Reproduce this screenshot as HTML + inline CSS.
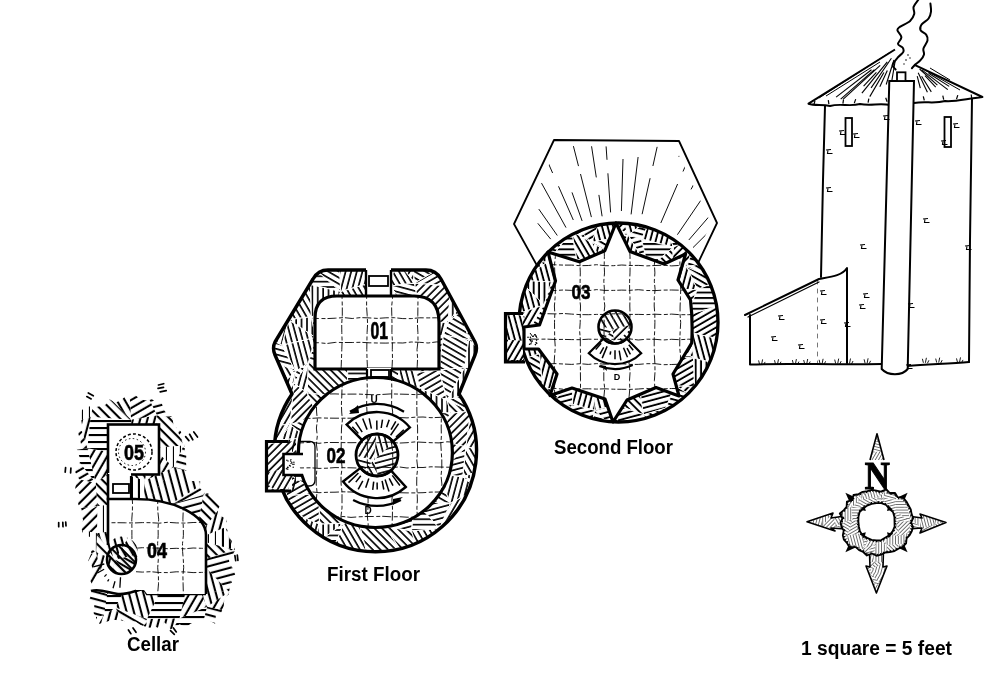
<!DOCTYPE html><html><head><meta charset="utf-8"><style>html,body{margin:0;padding:0;background:#fff;width:1000px;height:691px;overflow:hidden}svg{display:block;will-change:transform}text{font-family:"Liberation Sans",sans-serif;font-weight:bold}</style></head><body>
<svg width="1000" height="691" viewBox="0 0 1000 691">
<defs>
<pattern id="h0" width="5.4" height="5.4" patternUnits="userSpaceOnUse" patternTransform="rotate(0)"><rect width="5.4" height="1.65" fill="#000"/></pattern><pattern id="h1" width="5.4" height="5.4" patternUnits="userSpaceOnUse" patternTransform="rotate(30)"><rect width="5.4" height="1.65" fill="#000"/></pattern><pattern id="h2" width="5.4" height="5.4" patternUnits="userSpaceOnUse" patternTransform="rotate(60)"><rect width="5.4" height="1.65" fill="#000"/></pattern><pattern id="h3" width="5.4" height="5.4" patternUnits="userSpaceOnUse" patternTransform="rotate(90)"><rect width="5.4" height="1.65" fill="#000"/></pattern><pattern id="h4" width="5.4" height="5.4" patternUnits="userSpaceOnUse" patternTransform="rotate(120)"><rect width="5.4" height="1.65" fill="#000"/></pattern><pattern id="h5" width="5.4" height="5.4" patternUnits="userSpaceOnUse" patternTransform="rotate(150)"><rect width="5.4" height="1.65" fill="#000"/></pattern><pattern id="h6" width="5.4" height="5.4" patternUnits="userSpaceOnUse" patternTransform="rotate(15)"><rect width="5.4" height="1.65" fill="#000"/></pattern><pattern id="h7" width="5.4" height="5.4" patternUnits="userSpaceOnUse" patternTransform="rotate(45)"><rect width="5.4" height="1.65" fill="#000"/></pattern><pattern id="h8" width="5.4" height="5.4" patternUnits="userSpaceOnUse" patternTransform="rotate(75)"><rect width="5.4" height="1.65" fill="#000"/></pattern><pattern id="h9" width="5.4" height="5.4" patternUnits="userSpaceOnUse" patternTransform="rotate(105)"><rect width="5.4" height="1.65" fill="#000"/></pattern><pattern id="h10" width="5.4" height="5.4" patternUnits="userSpaceOnUse" patternTransform="rotate(135)"><rect width="5.4" height="1.65" fill="#000"/></pattern><pattern id="h11" width="5.4" height="5.4" patternUnits="userSpaceOnUse" patternTransform="rotate(165)"><rect width="5.4" height="1.65" fill="#000"/></pattern>
<pattern id="s0" width="5.4" height="5.4" patternUnits="userSpaceOnUse" patternTransform="rotate(0)"><rect width="5.4" height="1.9" fill="#000"/></pattern><pattern id="s1" width="5.4" height="5.4" patternUnits="userSpaceOnUse" patternTransform="rotate(30)"><rect width="5.4" height="1.9" fill="#000"/></pattern><pattern id="s2" width="5.4" height="5.4" patternUnits="userSpaceOnUse" patternTransform="rotate(60)"><rect width="5.4" height="1.9" fill="#000"/></pattern><pattern id="s3" width="5.4" height="5.4" patternUnits="userSpaceOnUse" patternTransform="rotate(90)"><rect width="5.4" height="1.9" fill="#000"/></pattern><pattern id="s4" width="5.4" height="5.4" patternUnits="userSpaceOnUse" patternTransform="rotate(120)"><rect width="5.4" height="1.9" fill="#000"/></pattern><pattern id="s5" width="5.4" height="5.4" patternUnits="userSpaceOnUse" patternTransform="rotate(150)"><rect width="5.4" height="1.9" fill="#000"/></pattern><pattern id="s6" width="5.4" height="5.4" patternUnits="userSpaceOnUse" patternTransform="rotate(15)"><rect width="5.4" height="1.9" fill="#000"/></pattern><pattern id="s7" width="5.4" height="5.4" patternUnits="userSpaceOnUse" patternTransform="rotate(45)"><rect width="5.4" height="1.9" fill="#000"/></pattern><pattern id="s8" width="5.4" height="5.4" patternUnits="userSpaceOnUse" patternTransform="rotate(75)"><rect width="5.4" height="1.9" fill="#000"/></pattern><pattern id="s9" width="5.4" height="5.4" patternUnits="userSpaceOnUse" patternTransform="rotate(105)"><rect width="5.4" height="1.9" fill="#000"/></pattern><pattern id="s10" width="5.4" height="5.4" patternUnits="userSpaceOnUse" patternTransform="rotate(135)"><rect width="5.4" height="1.9" fill="#000"/></pattern><pattern id="s11" width="5.4" height="5.4" patternUnits="userSpaceOnUse" patternTransform="rotate(165)"><rect width="5.4" height="1.9" fill="#000"/></pattern>
<pattern id="r0" width="7.0" height="7.0" patternUnits="userSpaceOnUse" patternTransform="rotate(0)"><rect width="7.0" height="2.1" fill="#000"/></pattern><pattern id="r1" width="7.0" height="7.0" patternUnits="userSpaceOnUse" patternTransform="rotate(30)"><rect width="7.0" height="2.1" fill="#000"/></pattern><pattern id="r2" width="7.0" height="7.0" patternUnits="userSpaceOnUse" patternTransform="rotate(60)"><rect width="7.0" height="2.1" fill="#000"/></pattern><pattern id="r3" width="7.0" height="7.0" patternUnits="userSpaceOnUse" patternTransform="rotate(90)"><rect width="7.0" height="2.1" fill="#000"/></pattern><pattern id="r4" width="7.0" height="7.0" patternUnits="userSpaceOnUse" patternTransform="rotate(120)"><rect width="7.0" height="2.1" fill="#000"/></pattern><pattern id="r5" width="7.0" height="7.0" patternUnits="userSpaceOnUse" patternTransform="rotate(150)"><rect width="7.0" height="2.1" fill="#000"/></pattern><pattern id="r6" width="7.0" height="7.0" patternUnits="userSpaceOnUse" patternTransform="rotate(15)"><rect width="7.0" height="2.1" fill="#000"/></pattern><pattern id="r7" width="7.0" height="7.0" patternUnits="userSpaceOnUse" patternTransform="rotate(45)"><rect width="7.0" height="2.1" fill="#000"/></pattern><pattern id="r8" width="7.0" height="7.0" patternUnits="userSpaceOnUse" patternTransform="rotate(75)"><rect width="7.0" height="2.1" fill="#000"/></pattern><pattern id="r9" width="7.0" height="7.0" patternUnits="userSpaceOnUse" patternTransform="rotate(105)"><rect width="7.0" height="2.1" fill="#000"/></pattern><pattern id="r10" width="7.0" height="7.0" patternUnits="userSpaceOnUse" patternTransform="rotate(135)"><rect width="7.0" height="2.1" fill="#000"/></pattern><pattern id="r11" width="7.0" height="7.0" patternUnits="userSpaceOnUse" patternTransform="rotate(165)"><rect width="7.0" height="2.1" fill="#000"/></pattern>
<pattern id="f0" width="2.8" height="2.8" patternUnits="userSpaceOnUse" patternTransform="rotate(0)"><rect width="2.8" height="0.9" fill="#000"/></pattern><pattern id="f1" width="2.8" height="2.8" patternUnits="userSpaceOnUse" patternTransform="rotate(30)"><rect width="2.8" height="0.9" fill="#000"/></pattern><pattern id="f2" width="2.8" height="2.8" patternUnits="userSpaceOnUse" patternTransform="rotate(60)"><rect width="2.8" height="0.9" fill="#000"/></pattern><pattern id="f3" width="2.8" height="2.8" patternUnits="userSpaceOnUse" patternTransform="rotate(90)"><rect width="2.8" height="0.9" fill="#000"/></pattern><pattern id="f4" width="2.8" height="2.8" patternUnits="userSpaceOnUse" patternTransform="rotate(120)"><rect width="2.8" height="0.9" fill="#000"/></pattern><pattern id="f5" width="2.8" height="2.8" patternUnits="userSpaceOnUse" patternTransform="rotate(150)"><rect width="2.8" height="0.9" fill="#000"/></pattern><pattern id="f6" width="2.8" height="2.8" patternUnits="userSpaceOnUse" patternTransform="rotate(15)"><rect width="2.8" height="0.9" fill="#000"/></pattern><pattern id="f7" width="2.8" height="2.8" patternUnits="userSpaceOnUse" patternTransform="rotate(45)"><rect width="2.8" height="0.9" fill="#000"/></pattern><pattern id="f8" width="2.8" height="2.8" patternUnits="userSpaceOnUse" patternTransform="rotate(75)"><rect width="2.8" height="0.9" fill="#000"/></pattern><pattern id="f9" width="2.8" height="2.8" patternUnits="userSpaceOnUse" patternTransform="rotate(105)"><rect width="2.8" height="0.9" fill="#000"/></pattern><pattern id="f10" width="2.8" height="2.8" patternUnits="userSpaceOnUse" patternTransform="rotate(135)"><rect width="2.8" height="0.9" fill="#000"/></pattern><pattern id="f11" width="2.8" height="2.8" patternUnits="userSpaceOnUse" patternTransform="rotate(165)"><rect width="2.8" height="0.9" fill="#000"/></pattern>
<clipPath id="cCellar"><path d="M90.7,406.2 L96.4,406.9 L101.4,406.1 L106.0,404.6 L109.4,399.3 L115.8,402.6 L120.4,400.5 L124.8,396.9 L130.4,398.5 L135.2,395.2 L141.0,399.6 L146.4,400.5 L151.7,399.1 L156.8,403.0 L161.1,401.4 L164.3,410.6 L168.0,415.0 L172.3,416.9 L173.8,427.0 L177.8,428.1 L181.2,432.0 L182.2,441.8 L185.4,441.8 L184.6,450.2 L186.5,453.3 L185.9,460.6 L186.3,466.1 L186.3,472.0 L187.5,478.0 L191.5,481.0 L200.2,481.3 L199.8,488.1 L203.9,492.3 L212.3,495.1 L214.4,499.9 L220.5,504.4 L217.7,510.1 L219.2,515.0 L228.3,520.2 L223.0,525.5 L230.1,532.5 L229.8,538.1 L234.6,545.3 L234.8,550.6 L233.1,554.8 L228.7,557.4 L229.3,562.3 L233.4,569.6 L235.7,576.4 L230.1,577.4 L232.4,584.2 L229.9,587.2 L228.8,594.4 L224.4,598.3 L223.7,606.4 L221.2,612.4 L215.9,614.7 L215.1,623.8 L206.2,618.7 L201.3,620.5 L195.9,621.5 L190.9,623.4 L186.2,627.1 L179.5,624.2 L175.3,627.2 L170.6,629.2 L164.5,622.2 L160.2,628.8 L155.0,626.4 L150.0,627.7 L145.0,626.5 L140.1,624.7 L135.6,621.4 L130.7,621.4 L125.8,621.2 L120.9,620.7 L116.1,620.0 L111.1,620.1 L105.0,622.5 L99.2,623.8 L96.5,618.4 L93.7,613.3 L94.6,602.2 L88.6,602.0 L92.0,592.3 L92.7,586.6 L91.6,583.2 L89.8,580.2 L93.2,571.8 L92.3,567.8 L91.1,563.8 L88.1,560.9 L91.2,553.6 L91.1,548.5 L91.5,543.3 L92.2,537.6 L83.9,535.2 L81.8,530.2 L81.9,524.9 L83.1,519.7 L81.0,515.0 L81.8,510.0 L78.3,504.6 L77.9,499.4 L80.4,495.0 L75.2,488.3 L76.1,483.6 L79.7,480.3 L75.2,472.1 L76.5,466.8 L79.8,463.2 L79.6,457.3 L76.7,448.8 L81.8,447.7 L80.2,440.2 L77.7,431.4 L82.5,431.0 L81.9,423.9 L80.5,415.7 L81.4,410.6 L85.4,407.2 Z"/></clipPath>
<clipPath id="c04"><path d="M108,499 L135,499 A71,36 0 0 1 206,535 L206,594 L147,594 L144,590 L136,590 L136,560 A14.5,14.5 0 0 0 108,545 Z"/></clipPath>
<clipPath id="cCirc04"><circle cx="121.5" cy="559.5" r="14.5"/></clipPath>
<clipPath id="cFF"><path d="M328,270 L426,270 Q436,270 441,279 L475,342 Q478,348 475,355 L459,394 A101,101 0 1 1 292,394 L275,355 Q272,348 275,342 L313,279 Q318,270 328,270 Z"/></clipPath>
<clipPath id="c01"><path d="M315,369 L315,318 Q315,296 337,296 L414,296 Q439,296 439,322 L439,369 Z"/></clipPath>
<clipPath id="c02"><ellipse cx="375.4" cy="452.5" rx="77" ry="75"/></clipPath>
<clipPath id="cPil1"><circle cx="377" cy="455" r="21"/></clipPath>
<clipPath id="cNub1"><rect x="266" y="440" width="30" height="51"/></clipPath>
<clipPath id="cSF"><circle cx="618.5" cy="322.5" r="99.5"/><rect x="505" y="313" width="20" height="49"/></clipPath>
<clipPath id="cStar"><path d="M616,223 L630,251.6 L664,264 L685.6,254 L678,280 L690.5,300 Q693,321 691.7,343 L673,374 L679,396 L656,387.5 L627,400 L613,422 L605,399 L572,388 L550,395.5 L557,374 L538.5,349 L524,349 L524,327 L539.5,325 L555.5,281 L548,252 L579.3,261.75 L604.8,250.7 Z"/></clipPath>
<clipPath id="cPil2"><circle cx="615" cy="327" r="16.5"/></clipPath>
<clipPath id="cRoof"><path d="M558,146 L675,147 L711,223 L690,270 L545,270 L520,224 Z"/></clipPath>
<clipPath id="cRing"><path fill-rule="evenodd" clip-rule="evenodd" d="M911.1,522.5 L913.0,526.9 L911.8,531.2 L909.7,535.1 L906.6,538.4 L906.1,543.3 L902.9,546.7 L898.4,548.7 L894.5,551.1 L889.8,552.0 L885.3,552.5 L881.1,554.7 L876.5,555.8 L872.0,553.5 L866.9,555.5 L863.2,552.0 L859.1,550.2 L855.8,547.2 L849.5,547.2 L847.1,543.2 L843.9,539.7 L842.8,535.3 L843.7,530.6 L841.5,526.7 L840.5,522.5 L842.5,518.4 L839.8,513.5 L843.8,510.1 L846.6,506.7 L846.9,501.6 L852.2,500.2 L853.5,495.0 L858.6,494.1 L862.6,491.8 L867.4,491.2 L871.8,489.8 L876.5,490.7 L880.9,491.6 L886.2,489.2 L889.8,493.0 L895.1,493.0 L897.6,497.2 L903.4,497.9 L906.4,501.5 L908.6,505.5 L910.8,509.5 L911.6,513.9 L913.2,518.1 Z M894.5,521.7 L894.4,516.9 L893.0,512.1 L889.3,508.8 L886.1,505.0 L881.4,503.1 L876.4,503.1 L871.6,503.8 L867.1,505.6 L863.3,508.6 L859.6,512.0 L858.5,516.9 L858.4,521.7 L858.9,526.4 L859.9,531.2 L862.7,535.4 L867.1,537.9 L871.6,539.8 L876.4,540.5 L881.3,540.1 L885.5,537.5 L889.7,535.0 L892.7,531.1 L894.6,526.6 Z"/></clipPath>
<clipPath id="cSpk"><path d="M807,521.7 L833,513 L831,518 L845,516 L845,529 L831,528 L835,531 Z"/><path d="M946,522.6 L920,514 L922,518 L908,516 L908,529 L922,528 L920,533 Z"/><path d="M876.4,593 L866,566 L870,567 L869.5,553 L883.4,553 L883,567 L887,566 Z"/><path d="M877,433.7 L884,460 L870,460 Z"/></clipPath>
</defs>
<g clip-path="url(#cCellar)"><polygon points="69.0,396.2 97.6,386.0 90.6,416.7 78.7,421.3" fill="url(#r3)"/><polygon points="78.7,421.3 90.6,416.7 87.4,448.3" fill="url(#r9)"/><polygon points="78.7,421.3 87.4,448.3 70.2,450.8" fill="url(#r10)"/><polygon points="70.2,450.8 87.4,448.3 95.8,483.0" fill="url(#r0)"/><polygon points="70.2,450.8 95.8,483.0 63.5,476.2" fill="url(#r5)"/><polygon points="63.5,476.2 95.8,483.0 97.4,505.9 72.7,509.0" fill="url(#r10)"/><polygon points="72.7,509.0 97.4,505.9 61.7,526.0" fill="url(#r5)"/><polygon points="97.4,505.9 97.0,533.3 61.7,526.0" fill="url(#r10)"/><polygon points="61.7,526.0 97.0,533.3 96.1,552.4" fill="url(#r3)"/><polygon points="61.7,526.0 96.1,552.4 61.6,563.4" fill="url(#r5)"/><polygon points="61.6,563.4 96.1,552.4 107.2,594.2 74.0,574.6" fill="url(#r4)"/><polygon points="74.0,574.6 107.2,594.2 104.0,615.3 79.9,620.5" fill="url(#r6)"/><polygon points="79.9,620.5 104.0,615.3 73.2,640.4" fill="url(#r3)"/><polygon points="104.0,615.3 93.2,632.5 73.2,640.4" fill="url(#r3)"/><polygon points="73.2,640.4 93.2,632.5 92.7,656.2 63.0,655.0" fill="url(#r9)"/><polygon points="97.6,386.0 129.5,393.0 131.1,419.7" fill="url(#r2)"/><polygon points="97.6,386.0 131.1,419.7 90.6,416.7" fill="url(#r7)"/><polygon points="90.6,416.7 131.1,419.7 133.4,456.1 87.4,448.3" fill="url(#r0)"/><polygon points="87.4,448.3 133.4,456.1 95.8,483.0" fill="url(#r4)"/><polygon points="133.4,456.1 113.8,470.0 95.8,483.0" fill="url(#r2)"/><polygon points="95.8,483.0 113.8,470.0 132.4,502.4 97.4,505.9" fill="url(#r7)"/><polygon points="97.4,505.9 132.4,502.4 133.9,527.9 97.0,533.3" fill="url(#r3)"/><polygon points="97.0,533.3 133.9,527.9 115.2,559.7" fill="url(#r8)"/><polygon points="97.0,533.3 115.2,559.7 96.1,552.4" fill="url(#r7)"/><polygon points="96.1,552.4 115.2,559.7 107.2,594.2" fill="url(#r9)"/><polygon points="115.2,559.7 129.7,579.3 107.2,594.2" fill="url(#r7)"/><polygon points="107.2,594.2 129.7,579.3 115.5,607.6 104.0,615.3" fill="url(#r0)"/><polygon points="104.0,615.3 115.5,607.6 133.5,643.3 93.2,632.5" fill="url(#r9)"/><polygon points="93.2,632.5 133.5,643.3 116.2,659.8 92.7,656.2" fill="url(#r11)"/><polygon points="129.5,393.0 142.8,386.0 157.1,415.4 131.1,419.7" fill="url(#r5)"/><polygon points="131.1,419.7 157.1,415.4 152.2,447.9 133.4,456.1" fill="url(#r9)"/><polygon points="133.4,456.1 152.2,447.9 144.7,480.8 113.8,470.0" fill="url(#r2)"/><polygon points="113.8,470.0 144.7,480.8 143.4,505.9 132.4,502.4" fill="url(#r3)"/><polygon points="132.4,502.4 143.4,505.9 143.1,528.4 133.9,527.9" fill="url(#r4)"/><polygon points="133.9,527.9 143.1,528.4 145.1,552.3 115.2,559.7" fill="url(#r2)"/><polygon points="115.2,559.7 145.1,552.3 129.7,579.3" fill="url(#r1)"/><polygon points="145.1,552.3 160.7,590.2 129.7,579.3" fill="url(#r7)"/><polygon points="129.7,579.3 160.7,590.2 147.0,618.9 115.5,607.6" fill="url(#r8)"/><polygon points="115.5,607.6 147.0,618.9 133.5,643.3" fill="url(#r1)"/><polygon points="147.0,618.9 145.1,635.8 133.5,643.3" fill="url(#r10)"/><polygon points="133.5,643.3 145.1,635.8 158.3,667.9 116.2,659.8" fill="url(#r7)"/><polygon points="142.8,386.0 169.8,405.0 172.1,417.0 157.1,415.4" fill="url(#r11)"/><polygon points="157.1,415.4 172.1,417.0 183.6,445.5 152.2,447.9" fill="url(#r7)"/><polygon points="152.2,447.9 183.6,445.5 173.8,467.2" fill="url(#r3)"/><polygon points="152.2,447.9 173.8,467.2 144.7,480.8" fill="url(#r4)"/><polygon points="144.7,480.8 173.8,467.2 143.4,505.9" fill="url(#r8)"/><polygon points="173.8,467.2 169.6,504.7 143.4,505.9" fill="url(#r8)"/><polygon points="143.4,505.9 169.6,504.7 143.1,528.4" fill="url(#r6)"/><polygon points="169.6,504.7 172.7,532.1 143.1,528.4" fill="url(#r11)"/><polygon points="143.1,528.4 172.7,532.1 175.4,556.0" fill="url(#r11)"/><polygon points="143.1,528.4 175.4,556.0 145.1,552.3" fill="url(#r6)"/><polygon points="145.1,552.3 175.4,556.0 187.4,583.7 160.7,590.2" fill="url(#r7)"/><polygon points="160.7,590.2 187.4,583.7 179.5,618.5 147.0,618.9" fill="url(#r0)"/><polygon points="147.0,618.9 179.5,618.5 171.5,630.9 145.1,635.8" fill="url(#r9)"/><polygon points="145.1,635.8 171.5,630.9 158.3,667.9" fill="url(#r5)"/><polygon points="171.5,630.9 186.4,671.5 158.3,667.9" fill="url(#r7)"/><polygon points="169.8,405.0 199.9,388.6 209.9,431.0 172.1,417.0" fill="url(#r3)"/><polygon points="172.1,417.0 209.9,431.0 198.8,458.2 183.6,445.5" fill="url(#r10)"/><polygon points="183.6,445.5 198.8,458.2 212.8,478.1" fill="url(#r3)"/><polygon points="183.6,445.5 212.8,478.1 173.8,467.2" fill="url(#r6)"/><polygon points="173.8,467.2 212.8,478.1 169.6,504.7" fill="url(#r8)"/><polygon points="212.8,478.1 203.4,494.9 169.6,504.7" fill="url(#r5)"/><polygon points="169.6,504.7 203.4,494.9 195.5,539.5 172.7,532.1" fill="url(#r11)"/><polygon points="172.7,532.1 195.5,539.5 199.6,561.2" fill="url(#r1)"/><polygon points="172.7,532.1 199.6,561.2 175.4,556.0" fill="url(#r0)"/><polygon points="175.4,556.0 199.6,561.2 200.0,590.6 187.4,583.7" fill="url(#r8)"/><polygon points="187.4,583.7 200.0,590.6 207.0,606.8 179.5,618.5" fill="url(#r4)"/><polygon points="179.5,618.5 207.0,606.8 198.3,642.5 171.5,630.9" fill="url(#r0)"/><polygon points="171.5,630.9 198.3,642.5 196.2,659.4 186.4,671.5" fill="url(#r1)"/><polygon points="199.9,388.6 233.2,402.2 234.3,417.5 209.9,431.0" fill="url(#r0)"/><polygon points="209.9,431.0 234.3,417.5 240.6,442.9 198.8,458.2" fill="url(#r5)"/><polygon points="198.8,458.2 240.6,442.9 212.8,478.1" fill="url(#r7)"/><polygon points="240.6,442.9 222.1,471.3 212.8,478.1" fill="url(#r2)"/><polygon points="212.8,478.1 222.1,471.3 203.4,494.9" fill="url(#r8)"/><polygon points="222.1,471.3 230.9,494.0 203.4,494.9" fill="url(#r10)"/><polygon points="203.4,494.9 230.9,494.0 195.5,539.5" fill="url(#r7)"/><polygon points="230.9,494.0 225.4,527.3 195.5,539.5" fill="url(#r9)"/><polygon points="195.5,539.5 225.4,527.3 233.5,549.4" fill="url(#r3)"/><polygon points="195.5,539.5 233.5,549.4 199.6,561.2" fill="url(#r7)"/><polygon points="199.6,561.2 233.5,549.4 229.2,592.0" fill="url(#r11)"/><polygon points="199.6,561.2 229.2,592.0 200.0,590.6" fill="url(#r8)"/><polygon points="200.0,590.6 229.2,592.0 207.0,606.8" fill="url(#r8)"/><polygon points="229.2,592.0 241.9,614.2 207.0,606.8" fill="url(#r4)"/><polygon points="207.0,606.8 241.9,614.2 235.9,639.7 198.3,642.5" fill="url(#r6)"/><polygon points="198.3,642.5 235.9,639.7 196.2,659.4" fill="url(#r9)"/><polygon points="235.9,639.7 224.6,655.5 196.2,659.4" fill="url(#r3)"/><polygon points="233.2,402.2 249.1,403.4 263.1,431.5 234.3,417.5" fill="url(#r2)"/><polygon points="234.3,417.5 263.1,431.5 240.6,442.9" fill="url(#r9)"/><polygon points="263.1,431.5 249.2,451.8 240.6,442.9" fill="url(#r7)"/><polygon points="240.6,442.9 249.2,451.8 258.6,480.7 222.1,471.3" fill="url(#r8)"/><polygon points="222.1,471.3 258.6,480.7 255.3,513.2 230.9,494.0" fill="url(#r0)"/><polygon points="230.9,494.0 255.3,513.2 250.3,530.9" fill="url(#r0)"/><polygon points="230.9,494.0 250.3,530.9 225.4,527.3" fill="url(#r8)"/><polygon points="225.4,527.3 250.3,530.9 233.5,549.4" fill="url(#r9)"/><polygon points="250.3,530.9 263.9,565.2 233.5,549.4" fill="url(#r1)"/><polygon points="233.5,549.4 263.9,565.2 263.9,588.2 229.2,592.0" fill="url(#r11)"/><polygon points="229.2,592.0 263.9,588.2 265.0,619.5 241.9,614.2" fill="url(#r8)"/><polygon points="241.9,614.2 265.0,619.5 256.0,641.8 235.9,639.7" fill="url(#r6)"/><polygon points="235.9,639.7 256.0,641.8 267.2,672.6 224.6,655.5" fill="url(#r7)"/><polygon points="249.1,403.4 284.3,401.0 293.5,423.5 263.1,431.5" fill="url(#r5)"/><polygon points="263.1,431.5 293.5,423.5 288.6,446.6 249.2,451.8" fill="url(#r7)"/><polygon points="249.2,451.8 288.6,446.6 287.7,478.2" fill="url(#r6)"/><polygon points="249.2,451.8 287.7,478.2 258.6,480.7" fill="url(#r9)"/><polygon points="258.6,480.7 287.7,478.2 277.4,505.9 255.3,513.2" fill="url(#r4)"/><polygon points="255.3,513.2 277.4,505.9 296.1,537.8 250.3,530.9" fill="url(#r0)"/><polygon points="250.3,530.9 296.1,537.8 290.7,554.7 263.9,565.2" fill="url(#r2)"/><polygon points="263.9,565.2 290.7,554.7 290.8,585.7 263.9,588.2" fill="url(#r10)"/><polygon points="263.9,588.2 290.8,585.7 284.8,617.9 265.0,619.5" fill="url(#r11)"/><polygon points="265.0,619.5 284.8,617.9 277.5,643.1 256.0,641.8" fill="url(#r9)"/><polygon points="256.0,641.8 277.5,643.1 276.4,667.1 267.2,672.6" fill="url(#r7)"/></g>
<line x1="88.3" y1="393.0" x2="93.3" y2="395.8" stroke="#000" stroke-width="1.7" stroke-linecap="round"/><line x1="86.8" y1="396.6" x2="91.2" y2="398.9" stroke="#000" stroke-width="1.7" stroke-linecap="round"/><line x1="158.5" y1="385.0" x2="163.7" y2="383.7" stroke="#000" stroke-width="1.7" stroke-linecap="round"/><line x1="158.0" y1="388.4" x2="163.5" y2="387.3" stroke="#000" stroke-width="1.7" stroke-linecap="round"/><line x1="160.2" y1="391.8" x2="166.2" y2="390.7" stroke="#000" stroke-width="1.7" stroke-linecap="round"/><line x1="193.8" y1="432.0" x2="197.5" y2="437.0" stroke="#000" stroke-width="1.7" stroke-linecap="round"/><line x1="189.6" y1="434.3" x2="192.8" y2="439.8" stroke="#000" stroke-width="1.7" stroke-linecap="round"/><line x1="185.6" y1="436.6" x2="188.9" y2="440.6" stroke="#000" stroke-width="1.7" stroke-linecap="round"/><line x1="70.9" y1="468.0" x2="70.6" y2="472.9" stroke="#000" stroke-width="1.7" stroke-linecap="round"/><line x1="65.6" y1="467.7" x2="65.2" y2="472.2" stroke="#000" stroke-width="1.7" stroke-linecap="round"/><line x1="65.7" y1="522.0" x2="66.0" y2="525.9" stroke="#000" stroke-width="1.7" stroke-linecap="round"/><line x1="62.8" y1="522.3" x2="63.0" y2="526.7" stroke="#000" stroke-width="1.7" stroke-linecap="round"/><line x1="58.7" y1="522.7" x2="58.7" y2="526.7" stroke="#000" stroke-width="1.7" stroke-linecap="round"/><line x1="237.3" y1="555.0" x2="237.9" y2="560.4" stroke="#000" stroke-width="1.7" stroke-linecap="round"/><line x1="234.9" y1="555.7" x2="235.7" y2="560.7" stroke="#000" stroke-width="1.7" stroke-linecap="round"/><line x1="173.4" y1="628.0" x2="176.3" y2="631.9" stroke="#000" stroke-width="1.7" stroke-linecap="round"/><line x1="170.5" y1="630.6" x2="174.3" y2="634.3" stroke="#000" stroke-width="1.7" stroke-linecap="round"/><line x1="133.0" y1="628.0" x2="136.0" y2="632.3" stroke="#000" stroke-width="1.7" stroke-linecap="round"/><line x1="128.4" y1="630.0" x2="130.9" y2="633.7" stroke="#000" stroke-width="1.7" stroke-linecap="round"/>
<rect x="108" y="424.5" width="51" height="50" fill="#fff" stroke="#000" stroke-width="2.6"/>
<circle cx="134" cy="452" r="18" fill="none" stroke="#000" stroke-width="1.5" stroke-dasharray="3 2.2"/>
<circle cx="132" cy="452" r="13.5" fill="none" stroke="#000" stroke-width="1" stroke-dasharray="1.5 2.5"/>
<rect x="108" y="473" width="23" height="27" fill="#fff"/>
<line x1="108" y1="474" x2="108" y2="500" stroke="#000" stroke-width="2.6"/>
<path d="M131,476 L131,500" fill="none" stroke="#000" stroke-width="2.2"/>
<rect x="113" y="484" width="16" height="9" fill="#fff" stroke="#000" stroke-width="1.8"/>
<path d="M91,591 C100,588 108,593 118,594 C128,595 136,590 144,589 L136,562 A14.5,14.5 0 1 1 107.6,555.3 Z" fill="#fff"/>
<path d="M91,591 C100,588 108,593 118,594 C128,595 136,590 144,589 L147,594 L206,594" fill="none" stroke="#000" stroke-width="2.6"/>
<line x1="120.5" y1="577.2" x2="119.9" y2="587.8" stroke="#000" stroke-width="1.3"/><line x1="115.0" y1="581.3" x2="113.0" y2="588.2" stroke="#000" stroke-width="1.3"/><line x1="108.9" y1="579.3" x2="107.6" y2="581.3" stroke="#000" stroke-width="1.3"/><line x1="106.6" y1="574.4" x2="104.4" y2="576.6" stroke="#000" stroke-width="1.3"/><line x1="104.1" y1="569.3" x2="97.4" y2="573.0" stroke="#000" stroke-width="1.3"/><line x1="104.3" y1="564.0" x2="93.2" y2="566.8" stroke="#000" stroke-width="1.3"/>
<path d="M108,499 L135,499 A71,36 0 0 1 206,535 L206,594 L147,594 L144,590 L136,590 L136,560 A14.5,14.5 0 0 0 108,545 Z" fill="#fff" stroke="none"/>
<g clip-path="url(#c04)" stroke="#000" stroke-width="0.9" stroke-dasharray="9 2.5 4 2" fill="none"><path d="M132.0,495.0 L132.5,503.1 L132.4,511.2 L131.8,519.2 L131.9,527.3 L131.9,535.4 L132.0,543.5 L132.0,551.5 L131.9,559.6 L131.9,567.7 L132.3,575.8 L131.8,583.8 L131.6,591.9 L131.7,600.0"/><path d="M158.0,495.0 L157.7,503.1 L157.8,511.2 L158.7,519.2 L158.1,527.3 L158.2,535.4 L157.6,543.5 L158.1,551.5 L158.3,559.6 L157.7,567.7 L158.4,575.8 L158.5,583.8 L157.8,591.9 L158.4,600.0"/><path d="M183.0,495.0 L183.0,503.1 L183.2,511.2 L182.9,519.2 L183.3,527.3 L183.4,535.4 L182.5,543.5 L182.6,551.5 L183.3,559.6 L183.7,567.7 L182.9,575.8 L183.1,583.8 L183.3,591.9 L183.2,600.0"/><path d="M100.0,523.0 L108.5,522.8 L116.9,522.7 L125.4,522.8 L133.8,523.0 L142.3,522.6 L150.8,522.7 L159.2,523.2 L167.7,522.3 L176.2,522.9 L184.6,523.1 L193.1,522.5 L201.5,522.4 L210.0,522.7"/><path d="M100.0,548.0 L108.5,547.7 L116.9,547.7 L125.4,548.0 L133.8,548.4 L142.3,547.7 L150.8,548.0 L159.2,548.1 L167.7,548.7 L176.2,548.3 L184.6,548.8 L193.1,548.0 L201.5,548.3 L210.0,548.5"/><path d="M100.0,572.0 L108.5,572.5 L116.9,572.0 L125.4,571.7 L133.8,571.6 L142.3,572.1 L150.8,571.7 L159.2,572.5 L167.7,572.6 L176.2,571.8 L184.6,571.9 L193.1,572.6 L201.5,572.4 L210.0,572.2"/></g>
<path d="M108,545 L108,499 L135,499 A71,36 0 0 1 206,535 L206,594" fill="none" stroke="#000" stroke-width="2.6"/>
<g clip-path="url(#cCirc04)"><polygon points="100.0,540.0 140.0,540.0 140.0,580.0 100.0,580.0" fill="url(#r7)"/><polygon points="100.0,580.0 140.0,580.0 140.0,620.0 100.0,620.0" fill="url(#r7)"/><polygon points="140.0,540.0 180.0,540.0 180.0,580.0 140.0,580.0" fill="url(#r7)"/><polygon points="140.0,580.0 180.0,580.0 180.0,620.0 140.0,620.0" fill="url(#r7)"/></g>
<circle cx="121.5" cy="559.5" r="14.5" fill="none" stroke="#000" stroke-width="2.6"/>
<text x="134" y="459.5" font-size="22" text-anchor="middle" textLength="20" lengthAdjust="spacingAndGlyphs" stroke="#000" stroke-width="0.6">05</text>
<text x="157" y="557.5" font-size="22" text-anchor="middle" textLength="20" lengthAdjust="spacingAndGlyphs" stroke="#000" stroke-width="0.6">04</text>
<text x="127" y="650.5" font-size="20" textLength="52" lengthAdjust="spacingAndGlyphs">Cellar</text>
<g clip-path="url(#cFF)"><polygon points="265.0,262.3 287.6,267.1 285.3,282.5 258.2,285.1" fill="url(#h11)" stroke="#fff" stroke-width="1.0"/><polygon points="258.2,285.1 285.3,282.5 288.6,319.8 257.0,306.1" fill="url(#h11)" stroke="#fff" stroke-width="1.0"/><polygon points="257.0,306.1 288.6,319.8 282.0,345.3 263.6,336.1" fill="url(#h9)" stroke="#fff" stroke-width="1.0"/><polygon points="263.6,336.1 282.0,345.3 295.7,371.6 267.6,357.7" fill="url(#h6)" stroke="#fff" stroke-width="1.0"/><polygon points="267.6,357.7 295.7,371.6 269.3,395.5" fill="url(#h2)" stroke="#fff" stroke-width="1.0"/><polygon points="295.7,371.6 293.9,383.0 269.3,395.5" fill="url(#h9)" stroke="#fff" stroke-width="1.0"/><polygon points="269.3,395.5 293.9,383.0 290.3,424.6 269.7,425.2" fill="url(#h4)" stroke="#fff" stroke-width="1.0"/><polygon points="269.7,425.2 290.3,424.6 279.8,439.8 269.3,445.4" fill="url(#h4)" stroke="#fff" stroke-width="1.0"/><polygon points="269.3,445.4 279.8,439.8 283.8,470.5 253.1,474.5" fill="url(#h7)" stroke="#fff" stroke-width="1.0"/><polygon points="253.1,474.5 283.8,470.5 256.0,492.4" fill="url(#h6)" stroke="#fff" stroke-width="1.0"/><polygon points="283.8,470.5 286.6,495.5 256.0,492.4" fill="url(#h5)" stroke="#fff" stroke-width="1.0"/><polygon points="256.0,492.4 286.6,495.5 265.0,522.5" fill="url(#h10)" stroke="#fff" stroke-width="1.0"/><polygon points="286.6,495.5 293.0,512.9 265.0,522.5" fill="url(#h7)" stroke="#fff" stroke-width="1.0"/><polygon points="265.0,522.5 293.0,512.9 260.4,556.0" fill="url(#h4)" stroke="#fff" stroke-width="1.0"/><polygon points="293.0,512.9 279.9,541.2 260.4,556.0" fill="url(#h10)" stroke="#fff" stroke-width="1.0"/><polygon points="260.4,556.0 279.9,541.2 281.2,566.1 264.0,571.1" fill="url(#h9)" stroke="#fff" stroke-width="1.0"/><polygon points="264.0,571.1 281.2,566.1 296.6,606.5 257.5,606.6" fill="url(#h10)" stroke="#fff" stroke-width="1.0"/><polygon points="287.6,267.1 306.5,262.0 310.6,284.6 285.3,282.5" fill="url(#h10)" stroke="#fff" stroke-width="1.0"/><polygon points="285.3,282.5 310.6,284.6 311.3,316.7 288.6,319.8" fill="url(#h2)" stroke="#fff" stroke-width="1.0"/><polygon points="288.6,319.8 311.3,316.7 315.6,337.5" fill="url(#h3)" stroke="#fff" stroke-width="1.0"/><polygon points="288.6,319.8 315.6,337.5 282.0,345.3" fill="url(#h8)" stroke="#fff" stroke-width="1.0"/><polygon points="282.0,345.3 315.6,337.5 308.4,362.9 295.7,371.6" fill="url(#h8)" stroke="#fff" stroke-width="1.0"/><polygon points="295.7,371.6 308.4,362.9 293.9,383.0" fill="url(#h1)" stroke="#fff" stroke-width="1.0"/><polygon points="308.4,362.9 307.2,393.0 293.9,383.0" fill="url(#h9)" stroke="#fff" stroke-width="1.0"/><polygon points="293.9,383.0 307.2,393.0 317.9,415.8 290.3,424.6" fill="url(#h10)" stroke="#fff" stroke-width="1.0"/><polygon points="290.3,424.6 317.9,415.8 306.4,438.1" fill="url(#h1)" stroke="#fff" stroke-width="1.0"/><polygon points="290.3,424.6 306.4,438.1 279.8,439.8" fill="url(#h9)" stroke="#fff" stroke-width="1.0"/><polygon points="279.8,439.8 306.4,438.1 311.7,471.9" fill="url(#h9)" stroke="#fff" stroke-width="1.0"/><polygon points="279.8,439.8 311.7,471.9 283.8,470.5" fill="url(#h3)" stroke="#fff" stroke-width="1.0"/><polygon points="283.8,470.5 311.7,471.9 319.1,493.8" fill="url(#h0)" stroke="#fff" stroke-width="1.0"/><polygon points="283.8,470.5 319.1,493.8 286.6,495.5" fill="url(#h5)" stroke="#fff" stroke-width="1.0"/><polygon points="286.6,495.5 319.1,493.8 319.5,524.2 293.0,512.9" fill="url(#h5)" stroke="#fff" stroke-width="1.0"/><polygon points="293.0,512.9 319.5,524.2 312.8,545.7" fill="url(#h9)" stroke="#fff" stroke-width="1.0"/><polygon points="293.0,512.9 312.8,545.7 279.9,541.2" fill="url(#h0)" stroke="#fff" stroke-width="1.0"/><polygon points="279.9,541.2 312.8,545.7 281.2,566.1" fill="url(#h5)" stroke="#fff" stroke-width="1.0"/><polygon points="312.8,545.7 313.9,577.7 281.2,566.1" fill="url(#h3)" stroke="#fff" stroke-width="1.0"/><polygon points="281.2,566.1 313.9,577.7 296.6,606.5" fill="url(#h6)" stroke="#fff" stroke-width="1.0"/><polygon points="313.9,577.7 312.6,603.5 296.6,606.5" fill="url(#h11)" stroke="#fff" stroke-width="1.0"/><polygon points="306.5,262.0 339.3,257.4 340.7,291.6" fill="url(#h1)" stroke="#fff" stroke-width="1.0"/><polygon points="306.5,262.0 340.7,291.6 310.6,284.6" fill="url(#h0)" stroke="#fff" stroke-width="1.0"/><polygon points="310.6,284.6 340.7,291.6 332.2,312.6 311.3,316.7" fill="url(#h3)" stroke="#fff" stroke-width="1.0"/><polygon points="311.3,316.7 332.2,312.6 338.7,346.9" fill="url(#h7)" stroke="#fff" stroke-width="1.0"/><polygon points="311.3,316.7 338.7,346.9 315.6,337.5" fill="url(#h11)" stroke="#fff" stroke-width="1.0"/><polygon points="315.6,337.5 338.7,346.9 347.9,363.7 308.4,362.9" fill="url(#h6)" stroke="#fff" stroke-width="1.0"/><polygon points="308.4,362.9 347.9,363.7 347.2,397.3 307.2,393.0" fill="url(#h7)" stroke="#fff" stroke-width="1.0"/><polygon points="307.2,393.0 347.2,397.3 335.7,417.3 317.9,415.8" fill="url(#h7)" stroke="#fff" stroke-width="1.0"/><polygon points="317.9,415.8 335.7,417.3 333.1,449.7 306.4,438.1" fill="url(#h11)" stroke="#fff" stroke-width="1.0"/><polygon points="306.4,438.1 333.1,449.7 343.0,477.0 311.7,471.9" fill="url(#h2)" stroke="#fff" stroke-width="1.0"/><polygon points="311.7,471.9 343.0,477.0 345.3,499.0 319.1,493.8" fill="url(#h0)" stroke="#fff" stroke-width="1.0"/><polygon points="319.1,493.8 345.3,499.0 344.3,523.2" fill="url(#h5)" stroke="#fff" stroke-width="1.0"/><polygon points="319.1,493.8 344.3,523.2 319.5,524.2" fill="url(#h7)" stroke="#fff" stroke-width="1.0"/><polygon points="319.5,524.2 344.3,523.2 312.8,545.7" fill="url(#h3)" stroke="#fff" stroke-width="1.0"/><polygon points="344.3,523.2 332.8,549.6 312.8,545.7" fill="url(#h0)" stroke="#fff" stroke-width="1.0"/><polygon points="312.8,545.7 332.8,549.6 331.0,567.5" fill="url(#h5)" stroke="#fff" stroke-width="1.0"/><polygon points="312.8,545.7 331.0,567.5 313.9,577.7" fill="url(#h2)" stroke="#fff" stroke-width="1.0"/><polygon points="313.9,577.7 331.0,567.5 312.6,603.5" fill="url(#h2)" stroke="#fff" stroke-width="1.0"/><polygon points="331.0,567.5 345.0,591.7 312.6,603.5" fill="url(#h3)" stroke="#fff" stroke-width="1.0"/><polygon points="339.3,257.4 358.6,254.7 372.9,282.2 340.7,291.6" fill="url(#h9)" stroke="#fff" stroke-width="1.0"/><polygon points="340.7,291.6 372.9,282.2 357.3,320.2 332.2,312.6" fill="url(#h2)" stroke="#fff" stroke-width="1.0"/><polygon points="332.2,312.6 357.3,320.2 359.1,346.3" fill="url(#h9)" stroke="#fff" stroke-width="1.0"/><polygon points="332.2,312.6 359.1,346.3 338.7,346.9" fill="url(#h2)" stroke="#fff" stroke-width="1.0"/><polygon points="338.7,346.9 359.1,346.3 369.2,372.1 347.9,363.7" fill="url(#h2)" stroke="#fff" stroke-width="1.0"/><polygon points="347.9,363.7 369.2,372.1 374.2,393.4 347.2,397.3" fill="url(#h0)" stroke="#fff" stroke-width="1.0"/><polygon points="347.2,397.3 374.2,393.4 371.4,409.6 335.7,417.3" fill="url(#h5)" stroke="#fff" stroke-width="1.0"/><polygon points="335.7,417.3 371.4,409.6 370.9,444.2 333.1,449.7" fill="url(#h11)" stroke="#fff" stroke-width="1.0"/><polygon points="333.1,449.7 370.9,444.2 369.9,462.8" fill="url(#h0)" stroke="#fff" stroke-width="1.0"/><polygon points="333.1,449.7 369.9,462.8 343.0,477.0" fill="url(#h6)" stroke="#fff" stroke-width="1.0"/><polygon points="343.0,477.0 369.9,462.8 370.5,503.9 345.3,499.0" fill="url(#h3)" stroke="#fff" stroke-width="1.0"/><polygon points="345.3,499.0 370.5,503.9 358.0,518.8 344.3,523.2" fill="url(#h6)" stroke="#fff" stroke-width="1.0"/><polygon points="344.3,523.2 358.0,518.8 367.2,554.0 332.8,549.6" fill="url(#h2)" stroke="#fff" stroke-width="1.0"/><polygon points="332.8,549.6 367.2,554.0 361.3,568.2 331.0,567.5" fill="url(#h1)" stroke="#fff" stroke-width="1.0"/><polygon points="331.0,567.5 361.3,568.2 361.4,602.1 345.0,591.7" fill="url(#h1)" stroke="#fff" stroke-width="1.0"/><polygon points="358.6,254.7 396.6,260.1 372.9,282.2" fill="url(#h4)" stroke="#fff" stroke-width="1.0"/><polygon points="396.6,260.1 389.6,286.1 372.9,282.2" fill="url(#h4)" stroke="#fff" stroke-width="1.0"/><polygon points="372.9,282.2 389.6,286.1 357.3,320.2" fill="url(#h4)" stroke="#fff" stroke-width="1.0"/><polygon points="389.6,286.1 389.3,312.5 357.3,320.2" fill="url(#h7)" stroke="#fff" stroke-width="1.0"/><polygon points="357.3,320.2 389.3,312.5 384.4,340.0 359.1,346.3" fill="url(#h4)" stroke="#fff" stroke-width="1.0"/><polygon points="359.1,346.3 384.4,340.0 400.6,364.4 369.2,372.1" fill="url(#h5)" stroke="#fff" stroke-width="1.0"/><polygon points="369.2,372.1 400.6,364.4 396.5,385.8" fill="url(#h1)" stroke="#fff" stroke-width="1.0"/><polygon points="369.2,372.1 396.5,385.8 374.2,393.4" fill="url(#h0)" stroke="#fff" stroke-width="1.0"/><polygon points="374.2,393.4 396.5,385.8 371.4,409.6" fill="url(#h9)" stroke="#fff" stroke-width="1.0"/><polygon points="396.5,385.8 395.5,422.7 371.4,409.6" fill="url(#h9)" stroke="#fff" stroke-width="1.0"/><polygon points="371.4,409.6 395.5,422.7 395.2,444.3 370.9,444.2" fill="url(#h0)" stroke="#fff" stroke-width="1.0"/><polygon points="370.9,444.2 395.2,444.3 391.7,472.6" fill="url(#h8)" stroke="#fff" stroke-width="1.0"/><polygon points="370.9,444.2 391.7,472.6 369.9,462.8" fill="url(#h0)" stroke="#fff" stroke-width="1.0"/><polygon points="369.9,462.8 391.7,472.6 399.2,489.6 370.5,503.9" fill="url(#h3)" stroke="#fff" stroke-width="1.0"/><polygon points="370.5,503.9 399.2,489.6 358.0,518.8" fill="url(#h3)" stroke="#fff" stroke-width="1.0"/><polygon points="399.2,489.6 384.6,526.5 358.0,518.8" fill="url(#h7)" stroke="#fff" stroke-width="1.0"/><polygon points="358.0,518.8 384.6,526.5 399.6,548.3 367.2,554.0" fill="url(#h7)" stroke="#fff" stroke-width="1.0"/><polygon points="367.2,554.0 399.6,548.3 361.3,568.2" fill="url(#h0)" stroke="#fff" stroke-width="1.0"/><polygon points="399.6,548.3 391.0,578.0 361.3,568.2" fill="url(#h6)" stroke="#fff" stroke-width="1.0"/><polygon points="361.3,568.2 391.0,578.0 386.3,595.8 361.4,602.1" fill="url(#h9)" stroke="#fff" stroke-width="1.0"/><polygon points="396.6,260.1 412.5,263.6 414.6,283.1" fill="url(#h4)" stroke="#fff" stroke-width="1.0"/><polygon points="396.6,260.1 414.6,283.1 389.6,286.1" fill="url(#h2)" stroke="#fff" stroke-width="1.0"/><polygon points="389.6,286.1 414.6,283.1 421.5,322.3" fill="url(#h6)" stroke="#fff" stroke-width="1.0"/><polygon points="389.6,286.1 421.5,322.3 389.3,312.5" fill="url(#h8)" stroke="#fff" stroke-width="1.0"/><polygon points="389.3,312.5 421.5,322.3 414.3,343.7 384.4,340.0" fill="url(#h10)" stroke="#fff" stroke-width="1.0"/><polygon points="384.4,340.0 414.3,343.7 416.4,372.4" fill="url(#h11)" stroke="#fff" stroke-width="1.0"/><polygon points="384.4,340.0 416.4,372.4 400.6,364.4" fill="url(#h11)" stroke="#fff" stroke-width="1.0"/><polygon points="400.6,364.4 416.4,372.4 419.5,387.8 396.5,385.8" fill="url(#h8)" stroke="#fff" stroke-width="1.0"/><polygon points="396.5,385.8 419.5,387.8 412.9,409.3 395.5,422.7" fill="url(#h2)" stroke="#fff" stroke-width="1.0"/><polygon points="395.5,422.7 412.9,409.3 417.6,441.9 395.2,444.3" fill="url(#h6)" stroke="#fff" stroke-width="1.0"/><polygon points="395.2,444.3 417.6,441.9 412.0,467.5 391.7,472.6" fill="url(#h7)" stroke="#fff" stroke-width="1.0"/><polygon points="391.7,472.6 412.0,467.5 414.8,501.0" fill="url(#h4)" stroke="#fff" stroke-width="1.0"/><polygon points="391.7,472.6 414.8,501.0 399.2,489.6" fill="url(#h2)" stroke="#fff" stroke-width="1.0"/><polygon points="399.2,489.6 414.8,501.0 384.6,526.5" fill="url(#h11)" stroke="#fff" stroke-width="1.0"/><polygon points="414.8,501.0 411.5,530.9 384.6,526.5" fill="url(#h11)" stroke="#fff" stroke-width="1.0"/><polygon points="384.6,526.5 411.5,530.9 417.6,549.8 399.6,548.3" fill="url(#h7)" stroke="#fff" stroke-width="1.0"/><polygon points="399.6,548.3 417.6,549.8 417.4,580.1 391.0,578.0" fill="url(#h2)" stroke="#fff" stroke-width="1.0"/><polygon points="391.0,578.0 417.4,580.1 423.9,601.0" fill="url(#h7)" stroke="#fff" stroke-width="1.0"/><polygon points="391.0,578.0 423.9,601.0 386.3,595.8" fill="url(#h1)" stroke="#fff" stroke-width="1.0"/><polygon points="412.5,263.6 443.7,266.0 414.6,283.1" fill="url(#h1)" stroke="#fff" stroke-width="1.0"/><polygon points="443.7,266.0 450.5,286.2 414.6,283.1" fill="url(#h5)" stroke="#fff" stroke-width="1.0"/><polygon points="414.6,283.1 450.5,286.2 448.3,322.4 421.5,322.3" fill="url(#h10)" stroke="#fff" stroke-width="1.0"/><polygon points="421.5,322.3 448.3,322.4 443.4,335.1 414.3,343.7" fill="url(#h9)" stroke="#fff" stroke-width="1.0"/><polygon points="414.3,343.7 443.4,335.1 439.2,370.0" fill="url(#h11)" stroke="#fff" stroke-width="1.0"/><polygon points="414.3,343.7 439.2,370.0 416.4,372.4" fill="url(#h10)" stroke="#fff" stroke-width="1.0"/><polygon points="416.4,372.4 439.2,370.0 447.2,400.3 419.5,387.8" fill="url(#h5)" stroke="#fff" stroke-width="1.0"/><polygon points="419.5,387.8 447.2,400.3 450.4,413.3 412.9,409.3" fill="url(#h3)" stroke="#fff" stroke-width="1.0"/><polygon points="412.9,409.3 450.4,413.3 438.4,439.6 417.6,441.9" fill="url(#h1)" stroke="#fff" stroke-width="1.0"/><polygon points="417.6,441.9 438.4,439.6 438.3,473.7 412.0,467.5" fill="url(#h4)" stroke="#fff" stroke-width="1.0"/><polygon points="412.0,467.5 438.3,473.7 450.5,503.3 414.8,501.0" fill="url(#h1)" stroke="#fff" stroke-width="1.0"/><polygon points="414.8,501.0 450.5,503.3 439.5,528.6" fill="url(#h11)" stroke="#fff" stroke-width="1.0"/><polygon points="414.8,501.0 439.5,528.6 411.5,530.9" fill="url(#h0)" stroke="#fff" stroke-width="1.0"/><polygon points="411.5,530.9 439.5,528.6 417.6,549.8" fill="url(#h2)" stroke="#fff" stroke-width="1.0"/><polygon points="439.5,528.6 440.6,546.6 417.6,549.8" fill="url(#h9)" stroke="#fff" stroke-width="1.0"/><polygon points="417.6,549.8 440.6,546.6 448.2,566.5" fill="url(#h4)" stroke="#fff" stroke-width="1.0"/><polygon points="417.6,549.8 448.2,566.5 417.4,580.1" fill="url(#h3)" stroke="#fff" stroke-width="1.0"/><polygon points="417.4,580.1 448.2,566.5 436.6,606.1 423.9,601.0" fill="url(#h8)" stroke="#fff" stroke-width="1.0"/><polygon points="443.7,266.0 466.2,259.4 450.5,286.2" fill="url(#h9)" stroke="#fff" stroke-width="1.0"/><polygon points="466.2,259.4 471.5,291.2 450.5,286.2" fill="url(#h5)" stroke="#fff" stroke-width="1.0"/><polygon points="450.5,286.2 471.5,291.2 448.3,322.4" fill="url(#h3)" stroke="#fff" stroke-width="1.0"/><polygon points="471.5,291.2 461.0,311.0 448.3,322.4" fill="url(#h7)" stroke="#fff" stroke-width="1.0"/><polygon points="448.3,322.4 461.0,311.0 468.8,339.7 443.4,335.1" fill="url(#h1)" stroke="#fff" stroke-width="1.0"/><polygon points="443.4,335.1 468.8,339.7 464.7,367.5 439.2,370.0" fill="url(#h1)" stroke="#fff" stroke-width="1.0"/><polygon points="439.2,370.0 464.7,367.5 447.2,400.3" fill="url(#h1)" stroke="#fff" stroke-width="1.0"/><polygon points="464.7,367.5 478.3,390.0 447.2,400.3" fill="url(#h3)" stroke="#fff" stroke-width="1.0"/><polygon points="447.2,400.3 478.3,390.0 470.8,411.1" fill="url(#h1)" stroke="#fff" stroke-width="1.0"/><polygon points="447.2,400.3 470.8,411.1 450.4,413.3" fill="url(#h7)" stroke="#fff" stroke-width="1.0"/><polygon points="450.4,413.3 470.8,411.1 465.9,447.0 438.4,439.6" fill="url(#h10)" stroke="#fff" stroke-width="1.0"/><polygon points="438.4,439.6 465.9,447.0 438.3,473.7" fill="url(#h10)" stroke="#fff" stroke-width="1.0"/><polygon points="465.9,447.0 462.9,477.0 438.3,473.7" fill="url(#h11)" stroke="#fff" stroke-width="1.0"/><polygon points="438.3,473.7 462.9,477.0 477.4,488.7 450.5,503.3" fill="url(#h9)" stroke="#fff" stroke-width="1.0"/><polygon points="450.5,503.3 477.4,488.7 439.5,528.6" fill="url(#h4)" stroke="#fff" stroke-width="1.0"/><polygon points="477.4,488.7 478.0,519.7 439.5,528.6" fill="url(#h9)" stroke="#fff" stroke-width="1.0"/><polygon points="439.5,528.6 478.0,519.7 475.0,552.7 440.6,546.6" fill="url(#h6)" stroke="#fff" stroke-width="1.0"/><polygon points="440.6,546.6 475.0,552.7 466.3,577.2 448.2,566.5" fill="url(#h8)" stroke="#fff" stroke-width="1.0"/><polygon points="448.2,566.5 466.3,577.2 472.8,605.6 436.6,606.1" fill="url(#h4)" stroke="#fff" stroke-width="1.0"/><polygon points="466.2,259.4 491.7,266.6 504.4,291.1" fill="url(#h5)" stroke="#fff" stroke-width="1.0"/><polygon points="466.2,259.4 504.4,291.1 471.5,291.2" fill="url(#h3)" stroke="#fff" stroke-width="1.0"/><polygon points="471.5,291.2 504.4,291.1 496.7,307.0 461.0,311.0" fill="url(#h1)" stroke="#fff" stroke-width="1.0"/><polygon points="461.0,311.0 496.7,307.0 468.8,339.7" fill="url(#h5)" stroke="#fff" stroke-width="1.0"/><polygon points="496.7,307.0 495.9,337.3 468.8,339.7" fill="url(#h6)" stroke="#fff" stroke-width="1.0"/><polygon points="468.8,339.7 495.9,337.3 500.0,369.2" fill="url(#h8)" stroke="#fff" stroke-width="1.0"/><polygon points="468.8,339.7 500.0,369.2 464.7,367.5" fill="url(#h3)" stroke="#fff" stroke-width="1.0"/><polygon points="464.7,367.5 500.0,369.2 497.2,386.2 478.3,390.0" fill="url(#h0)" stroke="#fff" stroke-width="1.0"/><polygon points="478.3,390.0 497.2,386.2 498.7,420.4 470.8,411.1" fill="url(#h6)" stroke="#fff" stroke-width="1.0"/><polygon points="470.8,411.1 498.7,420.4 490.2,451.1 465.9,447.0" fill="url(#h4)" stroke="#fff" stroke-width="1.0"/><polygon points="465.9,447.0 490.2,451.1 498.8,463.1 462.9,477.0" fill="url(#h2)" stroke="#fff" stroke-width="1.0"/><polygon points="462.9,477.0 498.8,463.1 503.9,489.5" fill="url(#h3)" stroke="#fff" stroke-width="1.0"/><polygon points="462.9,477.0 503.9,489.5 477.4,488.7" fill="url(#h11)" stroke="#fff" stroke-width="1.0"/><polygon points="477.4,488.7 503.9,489.5 478.0,519.7" fill="url(#h8)" stroke="#fff" stroke-width="1.0"/><polygon points="503.9,489.5 492.9,526.0 478.0,519.7" fill="url(#h6)" stroke="#fff" stroke-width="1.0"/><polygon points="478.0,519.7 492.9,526.0 497.8,549.0 475.0,552.7" fill="url(#h3)" stroke="#fff" stroke-width="1.0"/><polygon points="475.0,552.7 497.8,549.0 466.3,577.2" fill="url(#h7)" stroke="#fff" stroke-width="1.0"/><polygon points="497.8,549.0 498.7,573.2 466.3,577.2" fill="url(#h6)" stroke="#fff" stroke-width="1.0"/><polygon points="466.3,577.2 498.7,573.2 492.6,594.1 472.8,605.6" fill="url(#h9)" stroke="#fff" stroke-width="1.0"/><polygon points="491.7,266.6 514.1,265.9 526.6,288.8" fill="url(#h0)" stroke="#fff" stroke-width="1.0"/><polygon points="491.7,266.6 526.6,288.8 504.4,291.1" fill="url(#h2)" stroke="#fff" stroke-width="1.0"/><polygon points="504.4,291.1 526.6,288.8 526.4,311.4" fill="url(#h2)" stroke="#fff" stroke-width="1.0"/><polygon points="504.4,291.1 526.4,311.4 496.7,307.0" fill="url(#h4)" stroke="#fff" stroke-width="1.0"/><polygon points="496.7,307.0 526.4,311.4 517.7,337.9" fill="url(#h7)" stroke="#fff" stroke-width="1.0"/><polygon points="496.7,307.0 517.7,337.9 495.9,337.3" fill="url(#h0)" stroke="#fff" stroke-width="1.0"/><polygon points="495.9,337.3 517.7,337.9 528.8,357.7 500.0,369.2" fill="url(#h3)" stroke="#fff" stroke-width="1.0"/><polygon points="500.0,369.2 528.8,357.7 522.1,387.4 497.2,386.2" fill="url(#h6)" stroke="#fff" stroke-width="1.0"/><polygon points="497.2,386.2 522.1,387.4 526.9,415.3 498.7,420.4" fill="url(#h7)" stroke="#fff" stroke-width="1.0"/><polygon points="498.7,420.4 526.9,415.3 490.2,451.1" fill="url(#h4)" stroke="#fff" stroke-width="1.0"/><polygon points="526.9,415.3 519.0,442.2 490.2,451.1" fill="url(#h2)" stroke="#fff" stroke-width="1.0"/><polygon points="490.2,451.1 519.0,442.2 522.8,474.9 498.8,463.1" fill="url(#h4)" stroke="#fff" stroke-width="1.0"/><polygon points="498.8,463.1 522.8,474.9 519.3,502.3" fill="url(#h3)" stroke="#fff" stroke-width="1.0"/><polygon points="498.8,463.1 519.3,502.3 503.9,489.5" fill="url(#h2)" stroke="#fff" stroke-width="1.0"/><polygon points="503.9,489.5 519.3,502.3 514.9,517.8 492.9,526.0" fill="url(#h11)" stroke="#fff" stroke-width="1.0"/><polygon points="492.9,526.0 514.9,517.8 514.7,541.0 497.8,549.0" fill="url(#h6)" stroke="#fff" stroke-width="1.0"/><polygon points="497.8,549.0 514.7,541.0 498.7,573.2" fill="url(#h5)" stroke="#fff" stroke-width="1.0"/><polygon points="514.7,541.0 527.1,578.1 498.7,573.2" fill="url(#h2)" stroke="#fff" stroke-width="1.0"/><polygon points="498.7,573.2 527.1,578.1 516.3,594.3 492.6,594.1" fill="url(#h7)" stroke="#fff" stroke-width="1.0"/></g>
<path d="M328,270 L426,270 Q436,270 441,279 L475,342 Q478,348 475,355 L459,394 A101,101 0 1 1 292,394 L275,355 Q272,348 275,342 L313,279 Q318,270 328,270 Z" fill="none" stroke="#000" stroke-width="3.4" stroke-linejoin="round"/>
<rect x="268" y="443" width="24" height="46" fill="#fff"/>
<g clip-path="url(#cNub1)"><polygon points="261.5,445.0 298.0,440.5 299.7,466.4 257.0,474.2" fill="url(#h10)"/><polygon points="257.0,474.2 299.7,466.4 283.3,498.3" fill="url(#h4)"/><polygon points="257.0,474.2 283.3,498.3 258.2,487.5" fill="url(#h5)"/><polygon points="258.2,487.5 283.3,498.3 285.7,517.4 259.7,523.5" fill="url(#h6)"/><polygon points="298.0,440.5 330.1,427.0 330.7,471.3 299.7,466.4" fill="url(#h10)"/><polygon points="299.7,466.4 330.7,471.3 319.4,504.4 283.3,498.3" fill="url(#h9)"/><polygon points="283.3,498.3 319.4,504.4 319.5,526.9 285.7,517.4" fill="url(#h2)"/><polygon points="330.1,427.0 351.8,431.3 330.7,471.3" fill="url(#h6)"/><polygon points="351.8,431.3 348.0,473.3 330.7,471.3" fill="url(#h8)"/><polygon points="330.7,471.3 348.0,473.3 358.0,497.9" fill="url(#h2)"/><polygon points="330.7,471.3 358.0,497.9 319.4,504.4" fill="url(#h4)"/><polygon points="319.4,504.4 358.0,497.9 357.6,525.1 319.5,526.9" fill="url(#h0)"/></g>
<path d="M288,441.5 L266.5,441.5 L266.5,491 L291,491" fill="none" stroke="#000" stroke-width="3.2"/>
<rect x="366" y="268" width="25" height="28" fill="#fff"/>
<path d="M366,270 L366,295 M391,270 L391,295" stroke="#000" stroke-width="2.4"/>
<rect x="369" y="276" width="19" height="10" fill="#fff" stroke="#000" stroke-width="1.8"/>
<path d="M315,369 L315,318 Q315,296 337,296 L414,296 Q439,296 439,322 L439,369 Z" fill="#fff" stroke="#000" stroke-width="3.2"/>
<g clip-path="url(#c01)" stroke="#000" stroke-width="0.9" stroke-dasharray="9 2.5 4 2" fill="none"><path d="M342.0,290.0 L342.1,298.5 L342.3,307.0 L342.3,315.5 L341.7,324.0 L341.8,332.5 L342.1,341.0 L341.8,349.5 L341.5,358.0 L341.2,366.5 L341.2,375.0"/><path d="M367.0,290.0 L366.6,298.5 L366.6,307.0 L367.2,315.5 L367.6,324.0 L367.1,332.5 L366.9,341.0 L366.8,349.5 L367.0,358.0 L367.4,366.5 L367.0,375.0"/><path d="M392.0,290.0 L392.5,298.5 L391.6,307.0 L391.8,315.5 L392.0,324.0 L391.9,332.5 L392.4,341.0 L392.3,349.5 L392.5,358.0 L392.1,366.5 L391.9,375.0"/><path d="M418.0,290.0 L418.0,298.5 L417.9,307.0 L417.8,315.5 L417.4,324.0 L417.9,332.5 L418.0,341.0 L417.0,349.5 L417.6,358.0 L417.2,366.5 L417.2,375.0"/><path d="M310.0,318.0 L318.4,318.5 L326.9,318.6 L335.3,318.2 L343.8,317.6 L352.2,318.5 L360.6,317.6 L369.1,317.9 L377.5,318.4 L385.9,317.8 L394.4,317.7 L402.8,318.6 L411.2,318.6 L419.7,317.8 L428.1,317.9 L436.6,317.8 L445.0,318.0"/><path d="M310.0,343.0 L318.4,342.7 L326.9,343.5 L335.3,342.4 L343.8,342.5 L352.2,342.5 L360.6,342.3 L369.1,342.8 L377.5,343.0 L385.9,343.1 L394.4,342.8 L402.8,343.0 L411.2,342.0 L419.7,342.3 L428.1,343.0 L436.6,341.9 L445.0,342.4"/></g>
<rect x="367" y="368" width="24" height="18" fill="#fff"/>
<path d="M367,369 L367,384 M391,369 L391,384" stroke="#000" stroke-width="2.2"/>
<rect x="371" y="370" width="18" height="7" fill="#fff" stroke="#000" stroke-width="1.8"/>
<ellipse cx="375.4" cy="452.5" rx="77" ry="75" fill="#fff" stroke="#000" stroke-width="3.2"/>
<path d="M303,454 L283.5,454 L283.5,475 L303,475" fill="#fff" stroke="#000" stroke-width="2.6"/>
<path clip-path="url(#c02)" d="M296,441.5 L310,441.5 Q315,441.5 315,447 L315,480 Q315,486 309,486 L296,486" fill="none" stroke="#000" stroke-width="1.3"/>
<g clip-path="url(#c02)" stroke="#000" stroke-width="0.9" stroke-dasharray="9 2.5 4 2" fill="none"><path d="M317.0,372.0 L317.0,380.0 L316.7,388.0 L317.0,396.0 L316.4,404.0 L316.6,412.0 L317.4,420.0 L316.4,428.0 L317.3,436.0 L316.4,444.0 L317.4,452.0 L317.0,460.0 L317.0,468.0 L316.3,476.0 L316.2,484.0 L317.0,492.0 L316.3,500.0 L316.3,508.0 L317.1,516.0 L317.1,524.0 L316.6,532.0"/><path d="M342.0,372.0 L342.5,380.0 L342.0,388.0 L341.8,396.0 L341.4,404.0 L341.7,412.0 L342.4,420.0 L341.5,428.0 L341.3,436.0 L341.2,444.0 L341.2,452.0 L341.4,460.0 L342.1,468.0 L341.0,476.0 L341.1,484.0 L342.0,492.0 L342.0,500.0 L342.0,508.0 L341.0,516.0 L341.1,524.0 L341.3,532.0"/><path d="M367.0,372.0 L367.0,380.0 L367.3,388.0 L366.9,396.0 L366.6,404.0 L367.0,412.0 L367.5,420.0 L367.6,428.0 L367.4,436.0 L367.3,444.0 L367.4,452.0 L367.3,460.0 L367.5,468.0 L367.9,476.0 L367.1,484.0 L367.7,492.0 L368.1,500.0 L368.0,508.0 L367.3,516.0 L368.2,524.0 L367.7,532.0"/><path d="M392.0,372.0 L391.6,380.0 L391.8,388.0 L391.7,396.0 L391.6,404.0 L392.7,412.0 L392.1,420.0 L392.6,428.0 L391.8,436.0 L391.7,444.0 L392.7,452.0 L392.7,460.0 L392.9,468.0 L392.6,476.0 L392.4,484.0 L392.7,492.0 L391.9,500.0 L392.5,508.0 L392.4,516.0 L392.1,524.0 L392.5,532.0"/><path d="M417.0,372.0 L416.8,380.0 L417.0,388.0 L416.9,396.0 L416.8,404.0 L416.9,412.0 L417.2,420.0 L417.6,428.0 L417.6,436.0 L417.5,444.0 L417.5,452.0 L416.8,460.0 L417.7,468.0 L416.8,476.0 L416.7,484.0 L417.1,492.0 L417.4,500.0 L416.9,508.0 L417.3,516.0 L416.9,524.0 L417.2,532.0"/><path d="M441.0,372.0 L441.0,380.0 L441.0,388.0 L441.1,396.0 L441.6,404.0 L441.8,412.0 L441.3,420.0 L441.2,428.0 L441.4,436.0 L440.8,444.0 L441.3,452.0 L441.8,460.0 L441.8,468.0 L441.0,476.0 L441.9,484.0 L441.4,492.0 L442.2,500.0 L441.5,508.0 L441.3,516.0 L441.8,524.0 L441.7,532.0"/><path d="M295.0,394.0 L303.0,393.9 L311.0,394.5 L319.0,394.3 L327.0,394.0 L335.0,393.9 L343.0,394.2 L351.0,394.1 L359.0,394.1 L367.0,394.5 L375.0,394.8 L383.0,394.4 L391.0,393.9 L399.0,394.1 L407.0,394.3 L415.0,394.6 L423.0,394.1 L431.0,394.0 L439.0,394.3 L447.0,394.3 L455.0,394.6"/><path d="M295.0,418.0 L303.0,418.0 L311.0,418.4 L319.0,417.9 L327.0,418.1 L335.0,418.2 L343.0,418.2 L351.0,418.2 L359.0,417.6 L367.0,417.9 L375.0,417.2 L383.0,418.0 L391.0,417.4 L399.0,417.5 L407.0,417.9 L415.0,417.2 L423.0,417.0 L431.0,417.7 L439.0,417.4 L447.0,416.8 L455.0,417.2"/><path d="M295.0,443.0 L303.0,442.8 L311.0,442.3 L319.0,443.3 L327.0,442.5 L335.0,442.5 L343.0,442.6 L351.0,442.7 L359.0,442.6 L367.0,442.8 L375.0,442.8 L383.0,442.5 L391.0,442.1 L399.0,443.1 L407.0,442.7 L415.0,441.9 L423.0,442.3 L431.0,442.7 L439.0,442.9 L447.0,441.8 L455.0,442.2"/><path d="M295.0,468.0 L303.0,467.9 L311.0,467.8 L319.0,468.4 L327.0,468.2 L335.0,467.6 L343.0,467.7 L351.0,467.8 L359.0,468.1 L367.0,467.3 L375.0,467.5 L383.0,467.1 L391.0,467.7 L399.0,466.9 L407.0,468.0 L415.0,467.4 L423.0,467.5 L431.0,466.8 L439.0,467.0 L447.0,467.2 L455.0,467.2"/><path d="M295.0,492.0 L303.0,492.1 L311.0,491.8 L319.0,492.7 L327.0,492.3 L335.0,492.2 L343.0,491.8 L351.0,492.0 L359.0,492.7 L367.0,491.8 L375.0,492.3 L383.0,492.5 L391.0,492.2 L399.0,492.7 L407.0,492.9 L415.0,492.9 L423.0,492.7 L431.0,492.1 L439.0,492.0 L447.0,492.5 L455.0,492.6"/><path d="M295.0,517.0 L303.0,516.6 L311.0,517.4 L319.0,516.6 L327.0,517.3 L335.0,517.5 L343.0,516.5 L351.0,517.4 L359.0,516.8 L367.0,516.5 L375.0,516.5 L383.0,516.3 L391.0,516.8 L399.0,516.7 L407.0,517.2 L415.0,517.2 L423.0,516.2 L431.0,516.6 L439.0,516.6 L447.0,516.3 L455.0,516.7"/></g>
<circle cx="288.0" cy="461.0" r="0.7" fill="#000"/><circle cx="291.6" cy="462.1" r="0.7" fill="#000"/><circle cx="286.9" cy="460.3" r="0.7" fill="#000"/><circle cx="289.5" cy="465.5" r="0.7" fill="#000"/><circle cx="288.0" cy="467.5" r="0.7" fill="#000"/><circle cx="287.7" cy="467.1" r="0.7" fill="#000"/><circle cx="290.9" cy="459.6" r="0.7" fill="#000"/><circle cx="292.0" cy="462.9" r="0.7" fill="#000"/><circle cx="290.3" cy="466.0" r="0.7" fill="#000"/><circle cx="291.0" cy="463.6" r="0.7" fill="#000"/><circle cx="286.4" cy="468.8" r="0.7" fill="#000"/><circle cx="292.9" cy="464.4" r="0.7" fill="#000"/><circle cx="290.6" cy="461.0" r="0.7" fill="#000"/><circle cx="293.2" cy="467.3" r="0.7" fill="#000"/><circle cx="287.8" cy="469.3" r="0.7" fill="#000"/><circle cx="293.9" cy="462.2" r="0.7" fill="#000"/><circle cx="294.0" cy="464.2" r="0.7" fill="#000"/><circle cx="287.4" cy="467.8" r="0.7" fill="#000"/>
<path d="M346.6,424.6 A43,43 0 0,1 409.9,427.4 L393.1,441.5 A21,21 0 0,0 362.2,440.2 Z" fill="#fff" stroke="#000" stroke-width="2.4"/>
<path d="M405.8,487.0 A43,43 0 0,1 343.1,481.5 L360.5,467.9 A21,21 0 0,0 391.1,470.6 Z" fill="#fff" stroke="#000" stroke-width="2.4"/>
<line x1="358.3" y1="433.6" x2="352.3" y2="426.8" stroke="#000" stroke-width="1.5"/><line x1="362.2" y1="432.2" x2="355.6" y2="422.2" stroke="#000" stroke-width="1.5"/><line x1="367.1" y1="429.6" x2="362.7" y2="418.5" stroke="#000" stroke-width="1.5"/><line x1="371.4" y1="428.6" x2="369.2" y2="418.3" stroke="#000" stroke-width="1.5"/><line x1="376.9" y1="429.8" x2="376.8" y2="420.4" stroke="#000" stroke-width="1.5"/><line x1="381.2" y1="428.0" x2="382.5" y2="419.6" stroke="#000" stroke-width="1.5"/><line x1="386.6" y1="427.3" x2="389.2" y2="419.8" stroke="#000" stroke-width="1.5"/><line x1="391.1" y1="429.7" x2="395.8" y2="421.4" stroke="#000" stroke-width="1.5"/><line x1="390.6" y1="435.2" x2="398.6" y2="423.6" stroke="#000" stroke-width="1.5"/><line x1="396.0" y1="437.1" x2="403.8" y2="429.7" stroke="#000" stroke-width="1.5"/>
<line x1="392.3" y1="475.4" x2="399.9" y2="485.5" stroke="#000" stroke-width="1.5"/><line x1="389.2" y1="478.3" x2="393.0" y2="485.7" stroke="#000" stroke-width="1.5"/><line x1="385.1" y1="479.6" x2="389.0" y2="491.4" stroke="#000" stroke-width="1.5"/><line x1="382.1" y1="480.9" x2="383.8" y2="489.5" stroke="#000" stroke-width="1.5"/><line x1="377.1" y1="482.5" x2="377.2" y2="489.6" stroke="#000" stroke-width="1.5"/><line x1="373.7" y1="481.7" x2="372.7" y2="489.9" stroke="#000" stroke-width="1.5"/><line x1="368.8" y1="478.6" x2="365.7" y2="487.7" stroke="#000" stroke-width="1.5"/><line x1="362.8" y1="480.9" x2="358.2" y2="489.4" stroke="#000" stroke-width="1.5"/><line x1="360.8" y1="475.8" x2="355.8" y2="482.1" stroke="#000" stroke-width="1.5"/><line x1="358.4" y1="473.0" x2="348.5" y2="482.6" stroke="#000" stroke-width="1.5"/>
<g clip-path="url(#cPil1)"><polygon points="345.9,432.8 377.1,424.8 349.7,454.3" fill="url(#h4)"/><polygon points="377.1,424.8 374.0,460.2 349.7,454.3" fill="url(#h4)"/><polygon points="349.7,454.3 374.0,460.2 347.4,487.0" fill="url(#h6)"/><polygon points="374.0,460.2 380.1,484.5 347.4,487.0" fill="url(#h2)"/><polygon points="347.4,487.0 380.1,484.5 381.4,504.7" fill="url(#h10)"/><polygon points="347.4,487.0 381.4,504.7 346.6,509.8" fill="url(#h0)"/><polygon points="377.1,424.8 406.2,430.7 374.0,460.2" fill="url(#h8)"/><polygon points="406.2,430.7 401.0,454.5 374.0,460.2" fill="url(#h11)"/><polygon points="374.0,460.2 401.0,454.5 380.1,484.5" fill="url(#h11)"/><polygon points="401.0,454.5 409.1,480.1 380.1,484.5" fill="url(#h10)"/><polygon points="380.1,484.5 409.1,480.1 406.8,505.4" fill="url(#h8)"/><polygon points="380.1,484.5 406.8,505.4 381.4,504.7" fill="url(#h9)"/><polygon points="406.2,430.7 432.8,425.5 401.0,454.5" fill="url(#h3)"/><polygon points="432.8,425.5 431.1,453.6 401.0,454.5" fill="url(#h1)"/><polygon points="401.0,454.5 431.1,453.6 409.1,480.1" fill="url(#h11)"/><polygon points="431.1,453.6 435.0,484.6 409.1,480.1" fill="url(#h1)"/><polygon points="409.1,480.1 435.0,484.6 406.8,505.4" fill="url(#h2)"/><polygon points="435.0,484.6 431.0,511.0 406.8,505.4" fill="url(#h1)"/></g>
<circle cx="377" cy="455" r="21" fill="none" stroke="#000" stroke-width="2.8"/>
<path d="M350.0,411.7 A51,51 0 0,1 404.0,411.7" fill="none" stroke="#000" stroke-width="2.2"/>
<path d="M349,414 L358,405 L359,413 Z" fill="#000"/>
<path d="M400.9,500.0 A51,51 0 0,1 353.1,500.0" fill="none" stroke="#000" stroke-width="2.2"/>
<path d="M403,497 L393,505 L393,499 Z" fill="#000"/>
<text x="374" y="403" font-size="10" text-anchor="middle">U</text>
<text x="368" y="514" font-size="10" text-anchor="middle">D</text>
<text x="379.3" y="338.6" font-size="23.5" text-anchor="middle" textLength="17.5" lengthAdjust="spacingAndGlyphs" stroke="#000" stroke-width="0.7">01</text>
<text x="336" y="463" font-size="22" text-anchor="middle" textLength="19" lengthAdjust="spacingAndGlyphs" stroke="#000" stroke-width="0.6">02</text>
<text x="327" y="581" font-size="20" textLength="93" lengthAdjust="spacingAndGlyphs">First Floor</text>
<path d="M554,140 L679,141 L717,223 L690,280 L545,280 L514,224 Z" fill="#fff" stroke="#000" stroke-width="1.8" stroke-linejoin="round"/>
<g clip-path="url(#cRoof)"><line x1="511.4" y1="299.1" x2="468.3" y2="289.8" stroke="#000" stroke-width="0.95"/><line x1="409.9" y1="277.3" x2="390.1" y2="273.0" stroke="#000" stroke-width="0.95"/><line x1="515.6" y1="290.6" x2="458.5" y2="273.1" stroke="#000" stroke-width="0.95"/><line x1="449.4" y1="270.3" x2="403.5" y2="256.2" stroke="#000" stroke-width="0.95"/><line x1="522.0" y1="280.6" x2="502.5" y2="272.1" stroke="#000" stroke-width="0.95"/><line x1="492.8" y1="267.9" x2="438.7" y2="244.6" stroke="#000" stroke-width="0.95"/><line x1="421.6" y1="237.2" x2="389.0" y2="223.1" stroke="#000" stroke-width="0.95"/><line x1="525.0" y1="271.2" x2="499.6" y2="257.3" stroke="#000" stroke-width="0.95"/><line x1="483.3" y1="248.4" x2="453.6" y2="232.2" stroke="#000" stroke-width="0.95"/><line x1="443.0" y1="226.4" x2="422.1" y2="215.0" stroke="#000" stroke-width="0.95"/><line x1="527.8" y1="261.9" x2="501.5" y2="244.4" stroke="#000" stroke-width="0.95"/><line x1="496.9" y1="241.4" x2="469.0" y2="222.8" stroke="#000" stroke-width="0.95"/><line x1="456.8" y1="214.7" x2="431.3" y2="197.7" stroke="#000" stroke-width="0.95"/><line x1="533.3" y1="252.4" x2="501.7" y2="226.5" stroke="#000" stroke-width="0.95"/><line x1="493.8" y1="220.0" x2="476.4" y2="205.7" stroke="#000" stroke-width="0.95"/><line x1="488.8" y1="194.4" x2="460.4" y2="166.3" stroke="#000" stroke-width="0.95"/><line x1="550.7" y1="239.1" x2="537.8" y2="223.3" stroke="#000" stroke-width="0.95"/><line x1="491.3" y1="165.9" x2="477.5" y2="148.9" stroke="#000" stroke-width="0.95"/><line x1="557.3" y1="235.5" x2="538.8" y2="209.1" stroke="#000" stroke-width="0.95"/><line x1="513.0" y1="172.3" x2="479.4" y2="124.4" stroke="#000" stroke-width="0.95"/><line x1="566.0" y1="227.6" x2="541.5" y2="183.1" stroke="#000" stroke-width="0.95"/><line x1="533.9" y1="169.4" x2="522.7" y2="149.0" stroke="#000" stroke-width="0.95"/><line x1="516.1" y1="137.0" x2="487.8" y2="85.7" stroke="#000" stroke-width="0.95"/><line x1="573.3" y1="220.0" x2="558.5" y2="186.3" stroke="#000" stroke-width="0.95"/><line x1="552.6" y1="173.0" x2="538.3" y2="140.3" stroke="#000" stroke-width="0.95"/><line x1="532.2" y1="126.4" x2="523.7" y2="107.0" stroke="#000" stroke-width="0.95"/><line x1="582.1" y1="220.9" x2="572.0" y2="192.4" stroke="#000" stroke-width="0.95"/><line x1="545.6" y1="118.0" x2="536.2" y2="91.6" stroke="#000" stroke-width="0.95"/><line x1="591.4" y1="217.1" x2="580.5" y2="174.0" stroke="#000" stroke-width="0.95"/><line x1="578.5" y1="166.1" x2="572.6" y2="143.0" stroke="#000" stroke-width="0.95"/><line x1="602.1" y1="216.3" x2="598.9" y2="194.9" stroke="#000" stroke-width="0.95"/><line x1="596.3" y1="177.4" x2="591.1" y2="143.2" stroke="#000" stroke-width="0.95"/><line x1="589.7" y1="133.7" x2="585.4" y2="105.2" stroke="#000" stroke-width="0.95"/><line x1="584.2" y1="97.0" x2="577.6" y2="53.2" stroke="#000" stroke-width="0.95"/><line x1="610.6" y1="212.4" x2="607.9" y2="173.3" stroke="#000" stroke-width="0.95"/><line x1="607.0" y1="159.8" x2="604.5" y2="122.6" stroke="#000" stroke-width="0.95"/><line x1="603.7" y1="110.9" x2="600.6" y2="65.1" stroke="#000" stroke-width="0.95"/><line x1="621.4" y1="211.0" x2="623.0" y2="159.0" stroke="#000" stroke-width="0.95"/><line x1="623.7" y1="137.4" x2="624.5" y2="111.9" stroke="#000" stroke-width="0.95"/><line x1="631.1" y1="214.4" x2="638.1" y2="157.0" stroke="#000" stroke-width="0.95"/><line x1="640.4" y1="137.6" x2="647.2" y2="81.7" stroke="#000" stroke-width="0.95"/><line x1="642.1" y1="214.2" x2="650.1" y2="178.2" stroke="#000" stroke-width="0.95"/><line x1="652.9" y1="166.0" x2="665.3" y2="110.2" stroke="#000" stroke-width="0.95"/><line x1="666.5" y1="105.0" x2="679.1" y2="48.5" stroke="#000" stroke-width="0.95"/><line x1="678.9" y1="157.0" x2="698.3" y2="104.4" stroke="#000" stroke-width="0.95"/><line x1="660.8" y1="223.0" x2="677.6" y2="184.0" stroke="#000" stroke-width="0.95"/><line x1="683.0" y1="171.5" x2="695.6" y2="142.2" stroke="#000" stroke-width="0.95"/><line x1="703.9" y1="123.0" x2="723.8" y2="77.0" stroke="#000" stroke-width="0.95"/><line x1="691.0" y1="189.4" x2="718.3" y2="139.8" stroke="#000" stroke-width="0.95"/><line x1="721.7" y1="133.7" x2="739.6" y2="101.2" stroke="#000" stroke-width="0.95"/><line x1="677.4" y1="234.7" x2="710.0" y2="186.9" stroke="#000" stroke-width="0.95"/><line x1="721.6" y1="169.8" x2="739.9" y2="143.0" stroke="#000" stroke-width="0.95"/><line x1="743.8" y1="137.4" x2="775.2" y2="91.2" stroke="#000" stroke-width="0.95"/><line x1="688.8" y1="240.0" x2="708.4" y2="217.3" stroke="#000" stroke-width="0.95"/><line x1="738.9" y1="182.0" x2="756.4" y2="161.7" stroke="#000" stroke-width="0.95"/><line x1="760.9" y1="156.5" x2="782.3" y2="131.7" stroke="#000" stroke-width="0.95"/><line x1="693.0" y1="247.6" x2="721.0" y2="219.8" stroke="#000" stroke-width="0.95"/><line x1="729.8" y1="211.1" x2="765.8" y2="175.3" stroke="#000" stroke-width="0.95"/><line x1="770.8" y1="170.4" x2="789.9" y2="151.5" stroke="#000" stroke-width="0.95"/><line x1="701.4" y1="253.9" x2="743.1" y2="219.8" stroke="#000" stroke-width="0.95"/><line x1="751.7" y1="212.8" x2="778.5" y2="190.9" stroke="#000" stroke-width="0.95"/><line x1="789.6" y1="181.8" x2="819.9" y2="157.1" stroke="#000" stroke-width="0.95"/><line x1="737.8" y1="242.4" x2="783.3" y2="212.2" stroke="#000" stroke-width="0.95"/><line x1="798.7" y1="201.9" x2="824.1" y2="185.1" stroke="#000" stroke-width="0.95"/><line x1="770.7" y1="243.8" x2="802.0" y2="227.7" stroke="#000" stroke-width="0.95"/><line x1="817.9" y1="219.6" x2="851.8" y2="202.3" stroke="#000" stroke-width="0.95"/><line x1="719.7" y1="282.4" x2="770.9" y2="262.5" stroke="#000" stroke-width="0.95"/><line x1="776.9" y1="260.2" x2="828.7" y2="240.0" stroke="#000" stroke-width="0.95"/><line x1="719.2" y1="292.2" x2="763.8" y2="279.1" stroke="#000" stroke-width="0.95"/><line x1="772.1" y1="276.7" x2="818.7" y2="263.0" stroke="#000" stroke-width="0.95"/><line x1="831.9" y1="259.1" x2="887.0" y2="242.9" stroke="#000" stroke-width="0.95"/><line x1="724.5" y1="300.8" x2="774.2" y2="290.9" stroke="#000" stroke-width="0.95"/><line x1="779.3" y1="289.9" x2="806.4" y2="284.5" stroke="#000" stroke-width="0.95"/><line x1="827.5" y1="280.3" x2="855.6" y2="274.7" stroke="#000" stroke-width="0.95"/></g>
<circle cx="618.5" cy="322.5" r="99.5" fill="#fff"/>
<g clip-path="url(#cSF)"><polygon points="505.8,214.1 531.2,218.9 525.6,237.4 500.4,241.8" fill="url(#s3)" stroke="#fff" stroke-width="0.9"/><polygon points="500.4,241.8 525.6,237.4 531.7,261.8 493.9,266.8" fill="url(#s1)" stroke="#fff" stroke-width="0.9"/><polygon points="493.9,266.8 531.7,261.8 505.0,293.0" fill="url(#s4)" stroke="#fff" stroke-width="0.9"/><polygon points="531.7,261.8 519.2,280.3 505.0,293.0" fill="url(#s10)" stroke="#fff" stroke-width="0.9"/><polygon points="505.0,293.0 519.2,280.3 521.5,312.7" fill="url(#s7)" stroke="#fff" stroke-width="0.9"/><polygon points="505.0,293.0 521.5,312.7 496.3,306.5" fill="url(#s2)" stroke="#fff" stroke-width="0.9"/><polygon points="496.3,306.5 521.5,312.7 521.7,342.5 494.4,341.7" fill="url(#s5)" stroke="#fff" stroke-width="0.9"/><polygon points="494.4,341.7 521.7,342.5 526.5,358.3 499.0,357.1" fill="url(#s7)" stroke="#fff" stroke-width="0.9"/><polygon points="499.0,357.1 526.5,358.3 526.7,384.7" fill="url(#s3)" stroke="#fff" stroke-width="0.9"/><polygon points="499.0,357.1 526.7,384.7 500.3,386.3" fill="url(#s3)" stroke="#fff" stroke-width="0.9"/><polygon points="500.3,386.3 526.7,384.7 526.0,406.9" fill="url(#s10)" stroke="#fff" stroke-width="0.9"/><polygon points="500.3,386.3 526.0,406.9 496.9,404.2" fill="url(#s0)" stroke="#fff" stroke-width="0.9"/><polygon points="496.9,404.2 526.0,406.9 524.4,430.9" fill="url(#s4)" stroke="#fff" stroke-width="0.9"/><polygon points="496.9,404.2 524.4,430.9 504.5,435.6" fill="url(#s10)" stroke="#fff" stroke-width="0.9"/><polygon points="504.5,435.6 524.4,430.9 529.6,449.8 496.6,447.8" fill="url(#s1)" stroke="#fff" stroke-width="0.9"/><polygon points="531.2,218.9 552.8,211.6 553.9,231.8" fill="url(#s9)" stroke="#fff" stroke-width="0.9"/><polygon points="531.2,218.9 553.9,231.8 525.6,237.4" fill="url(#s0)" stroke="#fff" stroke-width="0.9"/><polygon points="525.6,237.4 553.9,231.8 547.7,262.0 531.7,261.8" fill="url(#s3)" stroke="#fff" stroke-width="0.9"/><polygon points="531.7,261.8 547.7,262.0 519.2,280.3" fill="url(#s2)" stroke="#fff" stroke-width="0.9"/><polygon points="547.7,262.0 551.6,282.0 519.2,280.3" fill="url(#s8)" stroke="#fff" stroke-width="0.9"/><polygon points="519.2,280.3 551.6,282.0 544.0,304.8" fill="url(#s3)" stroke="#fff" stroke-width="0.9"/><polygon points="519.2,280.3 544.0,304.8 521.5,312.7" fill="url(#s8)" stroke="#fff" stroke-width="0.9"/><polygon points="521.5,312.7 544.0,304.8 521.7,342.5" fill="url(#s4)" stroke="#fff" stroke-width="0.9"/><polygon points="544.0,304.8 549.0,336.3 521.7,342.5" fill="url(#s1)" stroke="#fff" stroke-width="0.9"/><polygon points="521.7,342.5 549.0,336.3 539.6,353.6 526.5,358.3" fill="url(#s8)" stroke="#fff" stroke-width="0.9"/><polygon points="526.5,358.3 539.6,353.6 543.0,390.7 526.7,384.7" fill="url(#s1)" stroke="#fff" stroke-width="0.9"/><polygon points="526.7,384.7 543.0,390.7 547.2,408.1 526.0,406.9" fill="url(#s9)" stroke="#fff" stroke-width="0.9"/><polygon points="526.0,406.9 547.2,408.1 524.4,430.9" fill="url(#s2)" stroke="#fff" stroke-width="0.9"/><polygon points="547.2,408.1 544.5,433.7 524.4,430.9" fill="url(#s3)" stroke="#fff" stroke-width="0.9"/><polygon points="524.4,430.9 544.5,433.7 529.6,449.8" fill="url(#s8)" stroke="#fff" stroke-width="0.9"/><polygon points="544.5,433.7 553.3,457.9 529.6,449.8" fill="url(#s4)" stroke="#fff" stroke-width="0.9"/><polygon points="552.8,211.6 563.6,214.0 571.8,231.3 553.9,231.8" fill="url(#s7)" stroke="#fff" stroke-width="0.9"/><polygon points="553.9,231.8 571.8,231.3 547.7,262.0" fill="url(#s6)" stroke="#fff" stroke-width="0.9"/><polygon points="571.8,231.3 576.9,260.0 547.7,262.0" fill="url(#s0)" stroke="#fff" stroke-width="0.9"/><polygon points="547.7,262.0 576.9,260.0 568.5,289.1" fill="url(#s3)" stroke="#fff" stroke-width="0.9"/><polygon points="547.7,262.0 568.5,289.1 551.6,282.0" fill="url(#s8)" stroke="#fff" stroke-width="0.9"/><polygon points="551.6,282.0 568.5,289.1 573.4,310.9 544.0,304.8" fill="url(#s11)" stroke="#fff" stroke-width="0.9"/><polygon points="544.0,304.8 573.4,310.9 578.0,335.3 549.0,336.3" fill="url(#s1)" stroke="#fff" stroke-width="0.9"/><polygon points="549.0,336.3 578.0,335.3 569.4,351.7" fill="url(#s2)" stroke="#fff" stroke-width="0.9"/><polygon points="549.0,336.3 569.4,351.7 539.6,353.6" fill="url(#s3)" stroke="#fff" stroke-width="0.9"/><polygon points="539.6,353.6 569.4,351.7 572.9,380.7 543.0,390.7" fill="url(#s9)" stroke="#fff" stroke-width="0.9"/><polygon points="543.0,390.7 572.9,380.7 547.2,408.1" fill="url(#s7)" stroke="#fff" stroke-width="0.9"/><polygon points="572.9,380.7 572.6,404.4 547.2,408.1" fill="url(#s11)" stroke="#fff" stroke-width="0.9"/><polygon points="547.2,408.1 572.6,404.4 563.7,423.2 544.5,433.7" fill="url(#s1)" stroke="#fff" stroke-width="0.9"/><polygon points="544.5,433.7 563.7,423.2 566.3,448.2" fill="url(#s5)" stroke="#fff" stroke-width="0.9"/><polygon points="544.5,433.7 566.3,448.2 553.3,457.9" fill="url(#s9)" stroke="#fff" stroke-width="0.9"/><polygon points="563.6,214.0 601.9,216.4 591.6,242.5" fill="url(#s5)" stroke="#fff" stroke-width="0.9"/><polygon points="563.6,214.0 591.6,242.5 571.8,231.3" fill="url(#s5)" stroke="#fff" stroke-width="0.9"/><polygon points="571.8,231.3 591.6,242.5 598.3,255.6 576.9,260.0" fill="url(#s2)" stroke="#fff" stroke-width="0.9"/><polygon points="576.9,260.0 598.3,255.6 600.2,282.4 568.5,289.1" fill="url(#s0)" stroke="#fff" stroke-width="0.9"/><polygon points="568.5,289.1 600.2,282.4 573.4,310.9" fill="url(#s9)" stroke="#fff" stroke-width="0.9"/><polygon points="600.2,282.4 604.4,305.0 573.4,310.9" fill="url(#s7)" stroke="#fff" stroke-width="0.9"/><polygon points="573.4,310.9 604.4,305.0 578.0,335.3" fill="url(#s6)" stroke="#fff" stroke-width="0.9"/><polygon points="604.4,305.0 592.4,330.8 578.0,335.3" fill="url(#s11)" stroke="#fff" stroke-width="0.9"/><polygon points="578.0,335.3 592.4,330.8 602.1,364.4" fill="url(#s5)" stroke="#fff" stroke-width="0.9"/><polygon points="578.0,335.3 602.1,364.4 569.4,351.7" fill="url(#s2)" stroke="#fff" stroke-width="0.9"/><polygon points="569.4,351.7 602.1,364.4 597.3,377.1" fill="url(#s10)" stroke="#fff" stroke-width="0.9"/><polygon points="569.4,351.7 597.3,377.1 572.9,380.7" fill="url(#s11)" stroke="#fff" stroke-width="0.9"/><polygon points="572.9,380.7 597.3,377.1 594.8,410.4 572.6,404.4" fill="url(#s9)" stroke="#fff" stroke-width="0.9"/><polygon points="572.6,404.4 594.8,410.4 588.6,438.1 563.7,423.2" fill="url(#s11)" stroke="#fff" stroke-width="0.9"/><polygon points="563.7,423.2 588.6,438.1 601.7,462.3" fill="url(#s4)" stroke="#fff" stroke-width="0.9"/><polygon points="563.7,423.2 601.7,462.3 566.3,448.2" fill="url(#s1)" stroke="#fff" stroke-width="0.9"/><polygon points="601.9,216.4 623.3,217.0 628.0,235.1" fill="url(#s10)" stroke="#fff" stroke-width="0.9"/><polygon points="601.9,216.4 628.0,235.1 591.6,242.5" fill="url(#s8)" stroke="#fff" stroke-width="0.9"/><polygon points="591.6,242.5 628.0,235.1 616.7,256.7" fill="url(#s1)" stroke="#fff" stroke-width="0.9"/><polygon points="591.6,242.5 616.7,256.7 598.3,255.6" fill="url(#s9)" stroke="#fff" stroke-width="0.9"/><polygon points="598.3,255.6 616.7,256.7 600.2,282.4" fill="url(#s8)" stroke="#fff" stroke-width="0.9"/><polygon points="616.7,256.7 614.6,292.0 600.2,282.4" fill="url(#s5)" stroke="#fff" stroke-width="0.9"/><polygon points="600.2,282.4 614.6,292.0 613.2,315.1" fill="url(#s8)" stroke="#fff" stroke-width="0.9"/><polygon points="600.2,282.4 613.2,315.1 604.4,305.0" fill="url(#s11)" stroke="#fff" stroke-width="0.9"/><polygon points="604.4,305.0 613.2,315.1 618.3,341.3" fill="url(#s10)" stroke="#fff" stroke-width="0.9"/><polygon points="604.4,305.0 618.3,341.3 592.4,330.8" fill="url(#s10)" stroke="#fff" stroke-width="0.9"/><polygon points="592.4,330.8 618.3,341.3 602.1,364.4" fill="url(#s2)" stroke="#fff" stroke-width="0.9"/><polygon points="618.3,341.3 624.4,362.1 602.1,364.4" fill="url(#s2)" stroke="#fff" stroke-width="0.9"/><polygon points="602.1,364.4 624.4,362.1 597.3,377.1" fill="url(#s9)" stroke="#fff" stroke-width="0.9"/><polygon points="624.4,362.1 625.8,375.3 597.3,377.1" fill="url(#s0)" stroke="#fff" stroke-width="0.9"/><polygon points="597.3,377.1 625.8,375.3 616.1,404.8 594.8,410.4" fill="url(#s8)" stroke="#fff" stroke-width="0.9"/><polygon points="594.8,410.4 616.1,404.8 618.8,433.9" fill="url(#s11)" stroke="#fff" stroke-width="0.9"/><polygon points="594.8,410.4 618.8,433.9 588.6,438.1" fill="url(#s6)" stroke="#fff" stroke-width="0.9"/><polygon points="588.6,438.1 618.8,433.9 626.4,459.0" fill="url(#s7)" stroke="#fff" stroke-width="0.9"/><polygon points="588.6,438.1 626.4,459.0 601.7,462.3" fill="url(#s8)" stroke="#fff" stroke-width="0.9"/><polygon points="623.3,217.0 651.2,218.3 628.0,235.1" fill="url(#s8)" stroke="#fff" stroke-width="0.9"/><polygon points="651.2,218.3 641.6,239.1 628.0,235.1" fill="url(#s6)" stroke="#fff" stroke-width="0.9"/><polygon points="628.0,235.1 641.6,239.1 648.2,268.3" fill="url(#s11)" stroke="#fff" stroke-width="0.9"/><polygon points="628.0,235.1 648.2,268.3 616.7,256.7" fill="url(#s9)" stroke="#fff" stroke-width="0.9"/><polygon points="616.7,256.7 648.2,268.3 641.8,284.6" fill="url(#s1)" stroke="#fff" stroke-width="0.9"/><polygon points="616.7,256.7 641.8,284.6 614.6,292.0" fill="url(#s1)" stroke="#fff" stroke-width="0.9"/><polygon points="614.6,292.0 641.8,284.6 645.9,306.4" fill="url(#s6)" stroke="#fff" stroke-width="0.9"/><polygon points="614.6,292.0 645.9,306.4 613.2,315.1" fill="url(#s4)" stroke="#fff" stroke-width="0.9"/><polygon points="613.2,315.1 645.9,306.4 650.4,326.6" fill="url(#s3)" stroke="#fff" stroke-width="0.9"/><polygon points="613.2,315.1 650.4,326.6 618.3,341.3" fill="url(#s7)" stroke="#fff" stroke-width="0.9"/><polygon points="618.3,341.3 650.4,326.6 624.4,362.1" fill="url(#s7)" stroke="#fff" stroke-width="0.9"/><polygon points="650.4,326.6 646.5,358.8 624.4,362.1" fill="url(#s2)" stroke="#fff" stroke-width="0.9"/><polygon points="624.4,362.1 646.5,358.8 625.8,375.3" fill="url(#s11)" stroke="#fff" stroke-width="0.9"/><polygon points="646.5,358.8 638.9,384.2 625.8,375.3" fill="url(#s7)" stroke="#fff" stroke-width="0.9"/><polygon points="625.8,375.3 638.9,384.2 643.6,414.8 616.1,404.8" fill="url(#s7)" stroke="#fff" stroke-width="0.9"/><polygon points="616.1,404.8 643.6,414.8 650.5,432.5 618.8,433.9" fill="url(#s11)" stroke="#fff" stroke-width="0.9"/><polygon points="618.8,433.9 650.5,432.5 626.4,459.0" fill="url(#s10)" stroke="#fff" stroke-width="0.9"/><polygon points="650.5,432.5 650.2,461.4 626.4,459.0" fill="url(#s4)" stroke="#fff" stroke-width="0.9"/><polygon points="651.2,218.3 662.4,220.5 673.6,247.2 641.6,239.1" fill="url(#s9)" stroke="#fff" stroke-width="0.9"/><polygon points="641.6,239.1 673.6,247.2 648.2,268.3" fill="url(#s0)" stroke="#fff" stroke-width="0.9"/><polygon points="673.6,247.2 672.4,261.2 648.2,268.3" fill="url(#s7)" stroke="#fff" stroke-width="0.9"/><polygon points="648.2,268.3 672.4,261.2 663.1,289.6 641.8,284.6" fill="url(#s6)" stroke="#fff" stroke-width="0.9"/><polygon points="641.8,284.6 663.1,289.6 663.1,315.3" fill="url(#s6)" stroke="#fff" stroke-width="0.9"/><polygon points="641.8,284.6 663.1,315.3 645.9,306.4" fill="url(#s0)" stroke="#fff" stroke-width="0.9"/><polygon points="645.9,306.4 663.1,315.3 669.2,340.5 650.4,326.6" fill="url(#s0)" stroke="#fff" stroke-width="0.9"/><polygon points="650.4,326.6 669.2,340.5 665.6,355.7 646.5,358.8" fill="url(#s6)" stroke="#fff" stroke-width="0.9"/><polygon points="646.5,358.8 665.6,355.7 674.8,385.7 638.9,384.2" fill="url(#s3)" stroke="#fff" stroke-width="0.9"/><polygon points="638.9,384.2 674.8,385.7 666.0,408.0 643.6,414.8" fill="url(#s11)" stroke="#fff" stroke-width="0.9"/><polygon points="643.6,414.8 666.0,408.0 650.5,432.5" fill="url(#s1)" stroke="#fff" stroke-width="0.9"/><polygon points="666.0,408.0 666.9,433.4 650.5,432.5" fill="url(#s10)" stroke="#fff" stroke-width="0.9"/><polygon points="650.5,432.5 666.9,433.4 650.2,461.4" fill="url(#s11)" stroke="#fff" stroke-width="0.9"/><polygon points="666.9,433.4 668.3,451.4 650.2,461.4" fill="url(#s10)" stroke="#fff" stroke-width="0.9"/><polygon points="662.4,220.5 700.1,221.5 696.3,235.3 673.6,247.2" fill="url(#s0)" stroke="#fff" stroke-width="0.9"/><polygon points="673.6,247.2 696.3,235.3 686.9,266.9 672.4,261.2" fill="url(#s10)" stroke="#fff" stroke-width="0.9"/><polygon points="672.4,261.2 686.9,266.9 697.4,289.6 663.1,289.6" fill="url(#s9)" stroke="#fff" stroke-width="0.9"/><polygon points="663.1,289.6 697.4,289.6 687.2,314.7 663.1,315.3" fill="url(#s5)" stroke="#fff" stroke-width="0.9"/><polygon points="663.1,315.3 687.2,314.7 692.4,332.9" fill="url(#s11)" stroke="#fff" stroke-width="0.9"/><polygon points="663.1,315.3 692.4,332.9 669.2,340.5" fill="url(#s11)" stroke="#fff" stroke-width="0.9"/><polygon points="669.2,340.5 692.4,332.9 693.5,358.1" fill="url(#s4)" stroke="#fff" stroke-width="0.9"/><polygon points="669.2,340.5 693.5,358.1 665.6,355.7" fill="url(#s0)" stroke="#fff" stroke-width="0.9"/><polygon points="665.6,355.7 693.5,358.1 694.5,387.2 674.8,385.7" fill="url(#s5)" stroke="#fff" stroke-width="0.9"/><polygon points="674.8,385.7 694.5,387.2 700.1,400.5" fill="url(#s10)" stroke="#fff" stroke-width="0.9"/><polygon points="674.8,385.7 700.1,400.5 666.0,408.0" fill="url(#s6)" stroke="#fff" stroke-width="0.9"/><polygon points="666.0,408.0 700.1,400.5 693.2,438.5 666.9,433.4" fill="url(#s0)" stroke="#fff" stroke-width="0.9"/><polygon points="666.9,433.4 693.2,438.5 694.6,456.3 668.3,451.4" fill="url(#s8)" stroke="#fff" stroke-width="0.9"/><polygon points="700.1,221.5 721.9,207.1 720.9,241.1 696.3,235.3" fill="url(#s6)" stroke="#fff" stroke-width="0.9"/><polygon points="696.3,235.3 720.9,241.1 717.4,259.8 686.9,266.9" fill="url(#s6)" stroke="#fff" stroke-width="0.9"/><polygon points="686.9,266.9 717.4,259.8 718.0,280.7" fill="url(#s1)" stroke="#fff" stroke-width="0.9"/><polygon points="686.9,266.9 718.0,280.7 697.4,289.6" fill="url(#s1)" stroke="#fff" stroke-width="0.9"/><polygon points="697.4,289.6 718.0,280.7 716.4,306.9 687.2,314.7" fill="url(#s0)" stroke="#fff" stroke-width="0.9"/><polygon points="687.2,314.7 716.4,306.9 723.3,340.1 692.4,332.9" fill="url(#s5)" stroke="#fff" stroke-width="0.9"/><polygon points="692.4,332.9 723.3,340.1 715.5,363.3 693.5,358.1" fill="url(#s8)" stroke="#fff" stroke-width="0.9"/><polygon points="693.5,358.1 715.5,363.3 714.1,383.4 694.5,387.2" fill="url(#s3)" stroke="#fff" stroke-width="0.9"/><polygon points="694.5,387.2 714.1,383.4 710.3,413.0" fill="url(#s7)" stroke="#fff" stroke-width="0.9"/><polygon points="694.5,387.2 710.3,413.0 700.1,400.5" fill="url(#s10)" stroke="#fff" stroke-width="0.9"/><polygon points="700.1,400.5 710.3,413.0 720.4,435.4" fill="url(#s2)" stroke="#fff" stroke-width="0.9"/><polygon points="700.1,400.5 720.4,435.4 693.2,438.5" fill="url(#s5)" stroke="#fff" stroke-width="0.9"/><polygon points="693.2,438.5 720.4,435.4 709.0,460.4 694.6,456.3" fill="url(#s5)" stroke="#fff" stroke-width="0.9"/><polygon points="721.9,207.1 731.8,216.1 739.8,231.6 720.9,241.1" fill="url(#s5)" stroke="#fff" stroke-width="0.9"/><polygon points="720.9,241.1 739.8,231.6 717.4,259.8" fill="url(#s2)" stroke="#fff" stroke-width="0.9"/><polygon points="739.8,231.6 738.7,269.5 717.4,259.8" fill="url(#s7)" stroke="#fff" stroke-width="0.9"/><polygon points="717.4,259.8 738.7,269.5 742.1,283.9 718.0,280.7" fill="url(#s2)" stroke="#fff" stroke-width="0.9"/><polygon points="718.0,280.7 742.1,283.9 745.3,308.6 716.4,306.9" fill="url(#s1)" stroke="#fff" stroke-width="0.9"/><polygon points="716.4,306.9 745.3,308.6 746.7,333.3" fill="url(#s8)" stroke="#fff" stroke-width="0.9"/><polygon points="716.4,306.9 746.7,333.3 723.3,340.1" fill="url(#s4)" stroke="#fff" stroke-width="0.9"/><polygon points="723.3,340.1 746.7,333.3 715.5,363.3" fill="url(#s8)" stroke="#fff" stroke-width="0.9"/><polygon points="746.7,333.3 732.9,366.9 715.5,363.3" fill="url(#s1)" stroke="#fff" stroke-width="0.9"/><polygon points="715.5,363.3 732.9,366.9 732.8,378.9 714.1,383.4" fill="url(#s3)" stroke="#fff" stroke-width="0.9"/><polygon points="714.1,383.4 732.8,378.9 744.6,400.5 710.3,413.0" fill="url(#s1)" stroke="#fff" stroke-width="0.9"/><polygon points="710.3,413.0 744.6,400.5 720.4,435.4" fill="url(#s4)" stroke="#fff" stroke-width="0.9"/><polygon points="744.6,400.5 740.7,437.0 720.4,435.4" fill="url(#s5)" stroke="#fff" stroke-width="0.9"/><polygon points="720.4,435.4 740.7,437.0 741.5,452.4" fill="url(#s2)" stroke="#fff" stroke-width="0.9"/><polygon points="720.4,435.4 741.5,452.4 709.0,460.4" fill="url(#s10)" stroke="#fff" stroke-width="0.9"/><polygon points="731.8,216.1 768.3,220.5 739.8,231.6" fill="url(#s8)" stroke="#fff" stroke-width="0.9"/><polygon points="768.3,220.5 765.3,241.1 739.8,231.6" fill="url(#s1)" stroke="#fff" stroke-width="0.9"/><polygon points="739.8,231.6 765.3,241.1 738.7,269.5" fill="url(#s3)" stroke="#fff" stroke-width="0.9"/><polygon points="765.3,241.1 761.0,261.4 738.7,269.5" fill="url(#s5)" stroke="#fff" stroke-width="0.9"/><polygon points="738.7,269.5 761.0,261.4 772.3,294.9" fill="url(#s3)" stroke="#fff" stroke-width="0.9"/><polygon points="738.7,269.5 772.3,294.9 742.1,283.9" fill="url(#s1)" stroke="#fff" stroke-width="0.9"/><polygon points="742.1,283.9 772.3,294.9 755.6,305.9" fill="url(#s11)" stroke="#fff" stroke-width="0.9"/><polygon points="742.1,283.9 755.6,305.9 745.3,308.6" fill="url(#s0)" stroke="#fff" stroke-width="0.9"/><polygon points="745.3,308.6 755.6,305.9 759.4,339.9 746.7,333.3" fill="url(#s4)" stroke="#fff" stroke-width="0.9"/><polygon points="746.7,333.3 759.4,339.9 759.0,353.4" fill="url(#s7)" stroke="#fff" stroke-width="0.9"/><polygon points="746.7,333.3 759.0,353.4 732.9,366.9" fill="url(#s5)" stroke="#fff" stroke-width="0.9"/><polygon points="732.9,366.9 759.0,353.4 768.5,377.4 732.8,378.9" fill="url(#s4)" stroke="#fff" stroke-width="0.9"/><polygon points="732.8,378.9 768.5,377.4 772.0,406.3 744.6,400.5" fill="url(#s9)" stroke="#fff" stroke-width="0.9"/><polygon points="744.6,400.5 772.0,406.3 770.7,436.4 740.7,437.0" fill="url(#s1)" stroke="#fff" stroke-width="0.9"/><polygon points="740.7,437.0 770.7,436.4 741.5,452.4" fill="url(#s3)" stroke="#fff" stroke-width="0.9"/><polygon points="770.7,436.4 759.1,459.8 741.5,452.4" fill="url(#s11)" stroke="#fff" stroke-width="0.9"/></g>
<circle cx="618.5" cy="322.5" r="99.5" fill="none" stroke="#000" stroke-width="3.3"/>
<rect x="507" y="315" width="16" height="45" fill="#fff"/>
<defs><clipPath id="cNub2"><rect x="505" y="313" width="20" height="49"/></clipPath></defs>
<g clip-path="url(#cNub2)"><polygon points="503.4,309.4 522.9,316.6 530.2,341.2" fill="url(#s8)"/><polygon points="503.4,309.4 530.2,341.2 499.7,339.2" fill="url(#s8)"/><polygon points="499.7,339.2 530.2,341.2 527.1,361.7 496.5,362.6" fill="url(#s4)"/><polygon points="496.5,362.6 527.1,361.7 527.0,404.0" fill="url(#s11)"/><polygon points="496.5,362.6 527.0,404.0 507.4,395.6" fill="url(#s1)"/><polygon points="522.9,316.6 555.9,315.4 556.5,345.1" fill="url(#s9)"/><polygon points="522.9,316.6 556.5,345.1 530.2,341.2" fill="url(#s1)"/><polygon points="530.2,341.2 556.5,345.1 554.2,367.0 527.1,361.7" fill="url(#s1)"/><polygon points="527.1,361.7 554.2,367.0 527.0,404.0" fill="url(#s7)"/><polygon points="554.2,367.0 553.3,391.7 527.0,404.0" fill="url(#s7)"/></g>
<path d="M523,313.5 L505.5,313.5 L505.5,362 L525,362" fill="none" stroke="#000" stroke-width="3.2"/>
<path d="M616,223 L630,251.6 L664,264 L685.6,254 L678,280 L690.5,300 Q693,321 691.7,343 L673,374 L679,396 L656,387.5 L627,400 L613,422 L605,399 L572,388 L550,395.5 L557,374 L538.5,349 L524,349 L524,327 L539.5,325 L555.5,281 L548,252 L579.3,261.75 L604.8,250.7 Z" fill="#fff" stroke="#000" stroke-width="3.2" stroke-linejoin="round"/>
<g clip-path="url(#cStar)" stroke="#000" stroke-width="0.9" stroke-dasharray="9 2.5 4 2" fill="none"><path d="M555.0,215.0 L554.8,223.3 L554.6,231.5 L554.8,239.8 L555.2,248.1 L555.4,256.3 L554.5,264.6 L554.8,272.9 L555.2,281.2 L555.4,289.4 L555.1,297.7 L554.4,306.0 L554.8,314.2 L554.5,322.5 L554.6,330.8 L554.7,339.0 L555.3,347.3 L554.6,355.6 L554.1,363.8 L555.1,372.1 L554.8,380.4 L554.4,388.7 L555.2,396.9 L554.2,405.2 L555.0,413.5 L554.1,421.7 L554.6,430.0"/><path d="M580.0,215.0 L579.6,223.3 L580.4,231.5 L580.2,239.8 L579.5,248.1 L579.5,256.3 L580.0,264.6 L580.3,272.9 L580.1,281.2 L580.1,289.4 L579.7,297.7 L580.5,306.0 L580.3,314.2 L580.2,322.5 L579.6,330.8 L580.3,339.0 L580.3,347.3 L580.6,355.6 L580.4,363.8 L580.4,372.1 L580.5,380.4 L580.5,388.7 L580.6,396.9 L580.6,405.2 L580.4,413.5 L580.6,421.7 L580.4,430.0"/><path d="M604.5,215.0 L604.3,223.3 L604.0,231.5 L604.8,239.8 L604.1,248.1 L604.4,256.3 L604.2,264.6 L604.5,272.9 L603.8,281.2 L604.4,289.4 L603.9,297.7 L604.8,306.0 L603.8,314.2 L604.2,322.5 L604.0,330.8 L604.2,339.0 L604.2,347.3 L603.9,355.6 L604.0,363.8 L603.8,372.1 L603.8,380.4 L604.7,388.7 L603.9,396.9 L604.5,405.2 L604.0,413.5 L604.1,421.7 L604.0,430.0"/><path d="M630.0,215.0 L629.4,223.3 L630.0,231.5 L630.0,239.8 L629.6,248.1 L630.0,256.3 L630.1,264.6 L630.0,272.9 L629.6,281.2 L629.6,289.4 L630.0,297.7 L629.8,306.0 L630.1,314.2 L629.6,322.5 L629.1,330.8 L629.7,339.0 L629.2,347.3 L629.3,355.6 L629.0,363.8 L630.1,372.1 L629.5,380.4 L629.8,388.7 L629.1,396.9 L629.9,405.2 L629.6,413.5 L628.7,421.7 L629.3,430.0"/><path d="M655.0,215.0 L654.9,223.3 L654.7,231.5 L655.1,239.8 L655.3,248.1 L654.8,256.3 L654.4,264.6 L654.9,272.9 L654.3,281.2 L655.1,289.4 L654.3,297.7 L654.2,306.0 L654.8,314.2 L654.9,322.5 L654.7,330.8 L654.2,339.0 L654.2,347.3 L654.4,355.6 L654.9,363.8 L655.0,372.1 L654.4,380.4 L654.9,388.7 L654.6,396.9 L654.1,405.2 L654.1,413.5 L654.4,421.7 L654.2,430.0"/><path d="M680.0,215.0 L679.8,223.3 L680.1,231.5 L680.2,239.8 L680.4,248.1 L679.9,256.3 L679.9,264.6 L679.9,272.9 L680.6,281.2 L680.7,289.4 L680.5,297.7 L680.1,306.0 L680.0,314.2 L680.7,322.5 L680.2,330.8 L679.8,339.0 L679.7,347.3 L680.5,355.6 L680.3,363.8 L680.8,372.1 L680.4,380.4 L680.2,388.7 L680.9,396.9 L680.2,405.2 L680.7,413.5 L680.0,421.7 L680.5,430.0"/><path d="M530.0,265.0 L538.3,264.5 L546.7,264.5 L555.0,264.8 L563.3,265.1 L571.7,265.1 L580.0,265.7 L588.3,265.5 L596.7,264.7 L605.0,265.7 L613.3,265.7 L621.7,265.0 L630.0,265.5 L638.3,265.4 L646.7,265.9 L655.0,265.5 L663.3,265.2 L671.7,265.9 L680.0,265.4 L688.3,265.4 L696.7,266.0 L705.0,265.7"/><path d="M530.0,290.0 L538.3,290.0 L546.7,290.2 L555.0,290.5 L563.3,290.0 L571.7,290.4 L580.0,289.7 L588.3,290.7 L596.7,289.6 L605.0,290.4 L613.3,290.4 L621.7,290.1 L630.0,290.3 L638.3,289.7 L646.7,290.5 L655.0,290.6 L663.3,290.1 L671.7,290.0 L680.0,290.2 L688.3,289.9 L696.7,290.2 L705.0,290.2"/><path d="M530.0,314.0 L538.3,313.5 L546.7,313.7 L555.0,313.9 L563.3,313.5 L571.7,314.1 L580.0,314.6 L588.3,314.7 L596.7,314.4 L605.0,314.5 L613.3,313.8 L621.7,313.9 L630.0,314.4 L638.3,314.4 L646.7,314.6 L655.0,314.2 L663.3,314.6 L671.7,314.1 L680.0,314.7 L688.3,314.7 L696.7,314.4 L705.0,314.6"/><path d="M530.0,339.0 L538.3,339.2 L546.7,339.1 L555.0,339.5 L563.3,339.4 L571.7,339.6 L580.0,339.7 L588.3,339.2 L596.7,339.3 L605.0,339.1 L613.3,339.4 L621.7,339.3 L630.0,338.9 L638.3,340.0 L646.7,339.2 L655.0,339.3 L663.3,340.0 L671.7,339.3 L680.0,339.7 L688.3,339.2 L696.7,339.5 L705.0,339.7"/><path d="M530.0,364.0 L538.3,364.4 L546.7,364.1 L555.0,363.6 L563.3,364.0 L571.7,364.4 L580.0,363.7 L588.3,364.4 L596.7,363.6 L605.0,364.2 L613.3,363.9 L621.7,363.7 L630.0,364.4 L638.3,364.4 L646.7,363.7 L655.0,363.7 L663.3,364.7 L671.7,364.5 L680.0,364.2 L688.3,364.4 L696.7,364.2 L705.0,364.2"/><path d="M530.0,389.0 L538.3,389.1 L546.7,389.5 L555.0,388.4 L563.3,389.2 L571.7,389.0 L580.0,388.9 L588.3,388.8 L596.7,389.1 L605.0,388.8 L613.3,389.2 L621.7,389.3 L630.0,389.4 L638.3,389.0 L646.7,388.4 L655.0,389.4 L663.3,388.8 L671.7,388.5 L680.0,388.5 L688.3,388.8 L696.7,389.1 L705.0,388.8"/></g>
<circle cx="530.7" cy="340.1" r="0.8" fill="#000"/><circle cx="535.4" cy="344.6" r="0.8" fill="#000"/><circle cx="530.4" cy="337.2" r="0.8" fill="#000"/><circle cx="532.2" cy="341.1" r="0.8" fill="#000"/><circle cx="529.7" cy="339.5" r="0.8" fill="#000"/><circle cx="530.6" cy="340.7" r="0.8" fill="#000"/><circle cx="536.7" cy="343.3" r="0.8" fill="#000"/><circle cx="536.1" cy="342.6" r="0.8" fill="#000"/><circle cx="536.6" cy="340.1" r="0.8" fill="#000"/><circle cx="529.6" cy="344.2" r="0.8" fill="#000"/><circle cx="530.9" cy="343.7" r="0.8" fill="#000"/><circle cx="536.1" cy="336.2" r="0.8" fill="#000"/><circle cx="531.4" cy="342.0" r="0.8" fill="#000"/><circle cx="528.0" cy="337.2" r="0.8" fill="#000"/>
<path d="M530,333 l3,4 l2,-3 l2,4" fill="none" stroke="#000" stroke-width="1"/>
<path d="M641.2,353.2 A37,37 0 0,1 588.8,353.2 L603.3,338.7 A16.5,16.5 0 0,0 626.7,338.7 Z" fill="#fff" stroke="#000" stroke-width="2.2"/>
<line x1="628.8" y1="344.7" x2="633.2" y2="350.3" stroke="#000" stroke-width="1.5"/><line x1="627.0" y1="348.2" x2="630.4" y2="354.3" stroke="#000" stroke-width="1.5"/><line x1="623.5" y1="347.7" x2="627.5" y2="357.3" stroke="#000" stroke-width="1.5"/><line x1="619.2" y1="350.6" x2="620.9" y2="360.3" stroke="#000" stroke-width="1.5"/><line x1="615.0" y1="350.2" x2="615.0" y2="359.3" stroke="#000" stroke-width="1.5"/><line x1="610.7" y1="351.3" x2="610.1" y2="354.7" stroke="#000" stroke-width="1.5"/><line x1="607.1" y1="346.4" x2="602.2" y2="358.1" stroke="#000" stroke-width="1.5"/><line x1="603.7" y1="347.3" x2="600.0" y2="353.8" stroke="#000" stroke-width="1.5"/><line x1="601.1" y1="343.3" x2="595.7" y2="349.6" stroke="#000" stroke-width="1.5"/>
<g clip-path="url(#cPil2)"><polygon points="592.9,303.5 614.1,308.5 591.2,322.8" fill="url(#h0)"/><polygon points="614.1,308.5 612.7,329.5 591.2,322.8" fill="url(#h2)"/><polygon points="591.2,322.8 612.7,329.5 593.3,350.6" fill="url(#h6)"/><polygon points="612.7,329.5 614.1,344.1 593.3,350.6" fill="url(#h1)"/><polygon points="593.3,350.6 614.1,344.1 596.8,369.9" fill="url(#h0)"/><polygon points="614.1,344.1 613.0,370.6 596.8,369.9" fill="url(#h6)"/><polygon points="614.1,308.5 633.8,307.6 636.9,323.2" fill="url(#h3)"/><polygon points="614.1,308.5 636.9,323.2 612.7,329.5" fill="url(#h2)"/><polygon points="612.7,329.5 636.9,323.2 614.1,344.1" fill="url(#h10)"/><polygon points="636.9,323.2 634.6,348.6 614.1,344.1" fill="url(#h7)"/><polygon points="614.1,344.1 634.6,348.6 639.4,365.4" fill="url(#h11)"/><polygon points="614.1,344.1 639.4,365.4 613.0,370.6" fill="url(#h4)"/><polygon points="633.8,307.6 657.9,308.0 636.9,323.2" fill="url(#h5)"/><polygon points="657.9,308.0 654.6,330.9 636.9,323.2" fill="url(#h6)"/><polygon points="636.9,323.2 654.6,330.9 660.2,344.7" fill="url(#h7)"/><polygon points="636.9,323.2 660.2,344.7 634.6,348.6" fill="url(#h9)"/><polygon points="634.6,348.6 660.2,344.7 639.4,365.4" fill="url(#h5)"/><polygon points="660.2,344.7 660.3,367.1 639.4,365.4" fill="url(#h2)"/></g>
<circle cx="615" cy="327" r="16.5" fill="none" stroke="#000" stroke-width="2.6"/>
<path d="M632.7,365.1 A42,42 0 0,1 599.3,365.9" fill="none" stroke="#000" stroke-width="2.2"/>
<path d="M600,365 L607,371 L606,366 Z" fill="#000"/>
<text x="617" y="380" font-size="9" text-anchor="middle">D</text>
<text x="581" y="299" font-size="21" text-anchor="middle" textLength="19" lengthAdjust="spacingAndGlyphs" stroke="#000" stroke-width="0.6">03</text>
<text x="554" y="454" font-size="20" textLength="119" lengthAdjust="spacingAndGlyphs">Second Floor</text>
<g fill="none" stroke="#000" stroke-width="2" stroke-linecap="round" stroke-linejoin="round"><path d="M750,364.5 C790,363 830,365 882,364 M907,366 C930,364 950,364 969,362"/><path d="M750,315 L750,364"/><path d="M745,315 L819,279 C830,277 842,276 847,268 L847,363"/><path d="M748,317 L819,282" stroke-width="1.2"/><path d="M817.5,280 L817.5,363" stroke-width="0.9" stroke-dasharray="4 5" opacity="0.6"/><path d="M825,106 L823,180 L821,277"/><path d="M972,99 L970,240 L969,362"/></g>
<path d="M895,49.5 L808.5,103.7 C815,106 822,104 830,106 C840,103 850,107 860,104 C870,106 880,103 890,105 L914,103 C925,101 935,104 945,101 C955,102 965,99 982.4,97 L914,64.7" fill="#fff" stroke="#000" stroke-width="2" stroke-linejoin="round"/>
<line x1="871.5" y1="69.7" x2="836.1" y2="97.1" stroke="#000" stroke-width="1.1"/><line x1="874.4" y1="69.7" x2="840.7" y2="99.1" stroke="#000" stroke-width="1.1"/><line x1="880.2" y1="65.4" x2="843.0" y2="99.4" stroke="#000" stroke-width="1.1"/><line x1="876.4" y1="72.3" x2="863.6" y2="86.2" stroke="#000" stroke-width="1.1"/><line x1="887.3" y1="61.9" x2="861.9" y2="93.1" stroke="#000" stroke-width="1.1"/><line x1="891.4" y1="58.2" x2="871.1" y2="87.9" stroke="#000" stroke-width="1.1"/><line x1="883.9" y1="72.5" x2="869.8" y2="96.6" stroke="#000" stroke-width="1.1"/><line x1="887.3" y1="70.6" x2="879.8" y2="86.7" stroke="#000" stroke-width="1.1"/><line x1="893.9" y1="60.0" x2="886.2" y2="84.5" stroke="#000" stroke-width="1.1"/><line x1="895.1" y1="61.3" x2="890.6" y2="87.9" stroke="#000" stroke-width="1.1"/><line x1="917.2" y1="76.1" x2="920.3" y2="88.2" stroke="#000" stroke-width="1.1"/><line x1="918.2" y1="72.8" x2="927.4" y2="92.2" stroke="#000" stroke-width="1.1"/><line x1="921.6" y1="76.3" x2="931.3" y2="91.9" stroke="#000" stroke-width="1.1"/><line x1="925.0" y1="75.7" x2="935.7" y2="87.2" stroke="#000" stroke-width="1.1"/><line x1="919.6" y1="69.0" x2="937.4" y2="85.1" stroke="#000" stroke-width="1.1"/><line x1="922.1" y1="70.1" x2="947.8" y2="89.6" stroke="#000" stroke-width="1.1"/><line x1="928.6" y1="73.3" x2="949.2" y2="86.4" stroke="#000" stroke-width="1.1"/><path d="M819,98 L889,53 M826,96 L880,62" stroke="#000" stroke-width="1" fill="none"/><path d="M925,70 L960,90 M930,68 L950,80" stroke="#000" stroke-width="1" fill="none"/><path d="M813.9,104.8 l1.0,-4" stroke="#000" stroke-width="1.2"/><path d="M828.9,104.2 l-0.6,-4" stroke="#000" stroke-width="1.2"/><path d="M842.9,103.6 l0.6,-4" stroke="#000" stroke-width="1.2"/><path d="M854.3,103.1 l1.4,-4" stroke="#000" stroke-width="1.2"/><path d="M868.1,102.6 l0.7,-4" stroke="#000" stroke-width="1.2"/><path d="M887.1,101.8 l-1.4,-4" stroke="#000" stroke-width="1.2"/><path d="M900.7,101.3 l-0.4,-4" stroke="#000" stroke-width="1.2"/><path d="M913.5,100.8 l-1.5,-4" stroke="#000" stroke-width="1.2"/><path d="M924.3,100.3 l-1.0,-4" stroke="#000" stroke-width="1.2"/><path d="M943.7,99.6 l-0.9,-4" stroke="#000" stroke-width="1.2"/><path d="M956.5,99.1 l1.3,-4" stroke="#000" stroke-width="1.2"/><path d="M971.7,98.5 l-0.5,-4" stroke="#000" stroke-width="1.2"/>
<path d="M889.3,81 L881.7,369 C888,376 902,376 907.7,369 L914,81 Z" fill="#fff" stroke="#000" stroke-width="2"/>
<rect x="897" y="72.3" width="8.5" height="8.7" fill="#fff" stroke="#000" stroke-width="1.8"/>
<path d="M895.6,69.5 C895.1,68.7 892.4,66.8 892.7,64.9 C893.0,63.0 895.6,60.0 897.4,57.9 C899.1,55.8 902.3,53.8 903.2,52.1 C904.1,50.4 903.5,48.9 902.6,47.5 C901.7,46.1 898.2,45.7 898.0,44.0 C897.8,42.3 901.5,39.4 901.4,37.1 C901.3,34.8 897.6,31.9 897.4,30.1 C897.2,28.4 898.2,28.1 900.3,26.6 C902.4,25.1 907.8,23.0 910.1,20.9 C912.4,18.8 913.6,16.2 914.2,13.9 C914.8,11.6 912.9,9.2 913.6,6.9 C914.3,4.6 917.4,1.2 918.2,0.0" fill="none" stroke="#000" stroke-width="2" stroke-linecap="round"/>
<path d="M911.9,68.3 C912.4,67.7 913.4,66.2 914.8,64.9 C916.2,63.6 919.0,62.0 920.5,60.2 C922.0,58.5 923.5,56.3 924.0,54.4 C924.5,52.5 922.8,51.0 923.4,48.7 C924.0,46.4 927.0,42.8 927.5,40.5 C928.0,38.2 927.5,36.5 926.3,34.8 C925.1,33.1 921.3,31.9 920.5,30.1 C919.7,28.4 920.4,26.2 921.7,24.3 C923.1,22.4 927.1,20.6 928.6,18.5 C930.1,16.4 930.7,14.1 931.0,11.6 C931.3,9.1 930.5,4.8 930.4,3.5" fill="none" stroke="#000" stroke-width="2" stroke-linecap="round"/>
<g fill="#000"><circle cx="908" cy="55" r="0.8"/><circle cx="906" cy="60" r="0.8"/><circle cx="910" cy="58" r="0.7"/><circle cx="904" cy="64" r="0.7"/></g>
<rect x="845.5" y="118" width="6.5" height="28" fill="#fff" stroke="#000" stroke-width="1.8"/>
<rect x="944.5" y="117" width="6.5" height="30" fill="#fff" stroke="#000" stroke-width="1.8"/>
<path d="M839,131 L844,130.5 M841,131 L840.5,134.5 L845.5,134.5" fill="none" stroke="#000" stroke-width="1.1"/><path d="M853,134 L858,133.5 M855,134 L854.5,137.5 L859.5,137.5" fill="none" stroke="#000" stroke-width="1.1"/><path d="M953,124 L958,123.5 M955,124 L954.5,127.5 L959.5,127.5" fill="none" stroke="#000" stroke-width="1.1"/><path d="M941,141 L946,140.5 M943,141 L942.5,144.5 L947.5,144.5" fill="none" stroke="#000" stroke-width="1.1"/><path d="M883,116 L888,115.5 M885,116 L884.5,119.5 L889.5,119.5" fill="none" stroke="#000" stroke-width="1.1"/><path d="M915,121 L920,120.5 M917,121 L916.5,124.5 L921.5,124.5" fill="none" stroke="#000" stroke-width="1.1"/><path d="M826,150 L831,149.5 M828,150 L827.5,153.5 L832.5,153.5" fill="none" stroke="#000" stroke-width="1.1"/><path d="M826,188 L831,187.5 M828,188 L827.5,191.5 L832.5,191.5" fill="none" stroke="#000" stroke-width="1.1"/><path d="M923,219 L928,218.5 M925,219 L924.5,222.5 L929.5,222.5" fill="none" stroke="#000" stroke-width="1.1"/><path d="M860,245 L865,244.5 M862,245 L861.5,248.5 L866.5,248.5" fill="none" stroke="#000" stroke-width="1.1"/><path d="M965,246 L970,245.5 M967,246 L966.5,249.5 L971.5,249.5" fill="none" stroke="#000" stroke-width="1.1"/><path d="M863,294 L868,293.5 M865,294 L864.5,297.5 L869.5,297.5" fill="none" stroke="#000" stroke-width="1.1"/><path d="M859,305 L864,304.5 M861,305 L860.5,308.5 L865.5,308.5" fill="none" stroke="#000" stroke-width="1.1"/><path d="M778,316 L783,315.5 M780,316 L779.5,319.5 L784.5,319.5" fill="none" stroke="#000" stroke-width="1.1"/><path d="M771,337 L776,336.5 M773,337 L772.5,340.5 L777.5,340.5" fill="none" stroke="#000" stroke-width="1.1"/><path d="M798,345 L803,344.5 M800,345 L799.5,348.5 L804.5,348.5" fill="none" stroke="#000" stroke-width="1.1"/><path d="M820,291 L825,290.5 M822,291 L821.5,294.5 L826.5,294.5" fill="none" stroke="#000" stroke-width="1.1"/><path d="M820,320 L825,319.5 M822,320 L821.5,323.5 L826.5,323.5" fill="none" stroke="#000" stroke-width="1.1"/><path d="M844,323 L849,322.5 M846,323 L845.5,326.5 L850.5,326.5" fill="none" stroke="#000" stroke-width="1.1"/><path d="M908,304 L913,303.5 M910,304 L909.5,307.5 L914.5,307.5" fill="none" stroke="#000" stroke-width="1.1"/><path d="M906,365 L911,364.5 M908,365 L907.5,368.5 L912.5,368.5" fill="none" stroke="#000" stroke-width="1.1"/><path d="M759.6,364.4 l-1,-4 M761.6,364.4 l1,-5 M763.6,364.9 l1.5,-3" stroke="#000" stroke-width="0.9" fill="none"/><path d="M775.5,364.2 l-1,-4 M777.5,364.2 l1,-5 M779.5,364.7 l1.5,-3" stroke="#000" stroke-width="0.9" fill="none"/><path d="M793.4,364.1 l-1,-4 M795.4,364.1 l1,-5 M797.4,364.6 l1.5,-3" stroke="#000" stroke-width="0.9" fill="none"/><path d="M804.7,364.0 l-1,-4 M806.7,364.0 l1,-5 M808.7,364.5 l1.5,-3" stroke="#000" stroke-width="0.9" fill="none"/><path d="M820.1,363.8 l-1,-4 M822.1,363.8 l1,-5 M824.1,364.3 l1.5,-3" stroke="#000" stroke-width="0.9" fill="none"/><path d="M835.7,363.6 l-1,-4 M837.7,363.6 l1,-5 M839.7,364.1 l1.5,-3" stroke="#000" stroke-width="0.9" fill="none"/><path d="M847.5,363.5 l-1,-4 M849.5,363.5 l1,-5 M851.5,364.0 l1.5,-3" stroke="#000" stroke-width="0.9" fill="none"/><path d="M865.1,363.3 l-1,-4 M867.1,363.3 l1,-5 M869.1,363.8 l1.5,-3" stroke="#000" stroke-width="0.9" fill="none"/><path d="M923.4,362.8 l-1,-4 M925.4,362.8 l1,-5 M927.4,363.3 l1.5,-3" stroke="#000" stroke-width="0.9" fill="none"/><path d="M936.7,362.6 l-1,-4 M938.7,362.6 l1,-5 M940.7,363.1 l1.5,-3" stroke="#000" stroke-width="0.9" fill="none"/><path d="M957.5,362.4 l-1,-4 M959.5,362.4 l1,-5 M961.5,362.9 l1.5,-3" stroke="#000" stroke-width="0.9" fill="none"/>
<g clip-path="url(#cSpk)" opacity="0.6"><g clip-path="url(#cSpk)"><polygon points="801.4,426.7 815.3,432.5 803.5,445.3" fill="url(#f8)"/><polygon points="815.3,432.5 808.4,439.9 803.5,445.3" fill="url(#f9)"/><polygon points="803.5,445.3 808.4,439.9 815.0,453.8" fill="url(#f7)"/><polygon points="803.5,445.3 815.0,453.8 801.1,454.8" fill="url(#f10)"/><polygon points="801.1,454.8 815.0,453.8 815.5,465.3 797.5,462.5" fill="url(#f9)"/><polygon points="797.5,462.5 815.5,465.3 800.2,474.8" fill="url(#f6)"/><polygon points="815.5,465.3 808.9,478.9 800.2,474.8" fill="url(#f2)"/><polygon points="800.2,474.8 808.9,478.9 814.0,488.3 797.8,488.1" fill="url(#f2)"/><polygon points="797.8,488.1 814.0,488.3 796.6,501.7" fill="url(#f9)"/><polygon points="814.0,488.3 809.0,500.8 796.6,501.7" fill="url(#f0)"/><polygon points="796.6,501.7 809.0,500.8 815.3,515.9 799.6,516.5" fill="url(#f7)"/><polygon points="799.6,516.5 815.3,515.9 809.2,524.2 800.1,527.0" fill="url(#f8)"/><polygon points="800.1,527.0 809.2,524.2 809.1,534.8 800.0,539.2" fill="url(#f4)"/><polygon points="800.0,539.2 809.1,534.8 814.1,547.7 799.7,548.4" fill="url(#f4)"/><polygon points="799.7,548.4 814.1,547.7 812.4,561.6 803.6,565.6" fill="url(#f4)"/><polygon points="803.6,565.6 812.4,561.6 809.8,575.7" fill="url(#f11)"/><polygon points="803.6,565.6 809.8,575.7 802.4,575.5" fill="url(#f11)"/><polygon points="802.4,575.5 809.8,575.7 809.3,587.0 798.7,584.1" fill="url(#f0)"/><polygon points="798.7,584.1 809.3,587.0 798.5,594.9" fill="url(#f10)"/><polygon points="809.3,587.0 809.2,597.4 798.5,594.9" fill="url(#f2)"/><polygon points="798.5,594.9 809.2,597.4 809.9,608.3 801.9,609.3" fill="url(#f10)"/><polygon points="801.9,609.3 809.9,608.3 815.4,624.2 802.5,621.2" fill="url(#f5)"/><polygon points="815.3,432.5 822.6,432.8 821.9,441.2" fill="url(#f11)"/><polygon points="815.3,432.5 821.9,441.2 808.4,439.9" fill="url(#f5)"/><polygon points="808.4,439.9 821.9,441.2 826.6,455.0 815.0,453.8" fill="url(#f3)"/><polygon points="815.0,453.8 826.6,455.0 821.1,469.5 815.5,465.3" fill="url(#f7)"/><polygon points="815.5,465.3 821.1,469.5 821.9,476.3 808.9,478.9" fill="url(#f3)"/><polygon points="808.9,478.9 821.9,476.3 826.0,488.8 814.0,488.3" fill="url(#f1)"/><polygon points="814.0,488.3 826.0,488.8 809.0,500.8" fill="url(#f7)"/><polygon points="826.0,488.8 822.5,498.9 809.0,500.8" fill="url(#f2)"/><polygon points="809.0,500.8 822.5,498.9 815.3,515.9" fill="url(#f9)"/><polygon points="822.5,498.9 821.0,514.6 815.3,515.9" fill="url(#f11)"/><polygon points="815.3,515.9 821.0,514.6 822.1,526.7 809.2,524.2" fill="url(#f9)"/><polygon points="809.2,524.2 822.1,526.7 823.1,537.7 809.1,534.8" fill="url(#f1)"/><polygon points="809.1,534.8 823.1,537.7 827.3,549.9 814.1,547.7" fill="url(#f0)"/><polygon points="814.1,547.7 827.3,549.9 824.5,564.6 812.4,561.6" fill="url(#f2)"/><polygon points="812.4,561.6 824.5,564.6 821.7,571.5 809.8,575.7" fill="url(#f7)"/><polygon points="809.8,575.7 821.7,571.5 826.9,588.3 809.3,587.0" fill="url(#f6)"/><polygon points="809.3,587.0 826.9,588.3 822.2,595.8 809.2,597.4" fill="url(#f4)"/><polygon points="809.2,597.4 822.2,595.8 809.9,608.3" fill="url(#f5)"/><polygon points="822.2,595.8 825.7,613.2 809.9,608.3" fill="url(#f11)"/><polygon points="809.9,608.3 825.7,613.2 815.4,624.2" fill="url(#f4)"/><polygon points="825.7,613.2 821.8,625.2 815.4,624.2" fill="url(#f11)"/><polygon points="822.6,432.8 838.8,430.7 835.4,439.1 821.9,441.2" fill="url(#f7)"/><polygon points="821.9,441.2 835.4,439.1 832.7,457.3 826.6,455.0" fill="url(#f4)"/><polygon points="826.6,455.0 832.7,457.3 821.1,469.5" fill="url(#f5)"/><polygon points="832.7,457.3 834.1,467.5 821.1,469.5" fill="url(#f4)"/><polygon points="821.1,469.5 834.1,467.5 834.3,480.3 821.9,476.3" fill="url(#f10)"/><polygon points="821.9,476.3 834.3,480.3 826.0,488.8" fill="url(#f3)"/><polygon points="834.3,480.3 836.7,488.5 826.0,488.8" fill="url(#f10)"/><polygon points="826.0,488.8 836.7,488.5 833.7,503.6 822.5,498.9" fill="url(#f3)"/><polygon points="822.5,498.9 833.7,503.6 832.9,512.0 821.0,514.6" fill="url(#f3)"/><polygon points="821.0,514.6 832.9,512.0 822.1,526.7" fill="url(#f3)"/><polygon points="832.9,512.0 836.4,528.5 822.1,526.7" fill="url(#f10)"/><polygon points="822.1,526.7 836.4,528.5 836.8,536.4 823.1,537.7" fill="url(#f0)"/><polygon points="823.1,537.7 836.8,536.4 839.0,547.9 827.3,549.9" fill="url(#f4)"/><polygon points="827.3,549.9 839.0,547.9 832.5,560.3 824.5,564.6" fill="url(#f9)"/><polygon points="824.5,564.6 832.5,560.3 835.6,570.8 821.7,571.5" fill="url(#f3)"/><polygon points="821.7,571.5 835.6,570.8 833.7,585.1" fill="url(#f1)"/><polygon points="821.7,571.5 833.7,585.1 826.9,588.3" fill="url(#f10)"/><polygon points="826.9,588.3 833.7,585.1 836.5,595.3 822.2,595.8" fill="url(#f3)"/><polygon points="822.2,595.8 836.5,595.3 835.0,612.8" fill="url(#f7)"/><polygon points="822.2,595.8 835.0,612.8 825.7,613.2" fill="url(#f5)"/><polygon points="825.7,613.2 835.0,612.8 839.5,623.1 821.8,625.2" fill="url(#f5)"/><polygon points="838.8,430.7 849.4,430.6 845.4,438.7 835.4,439.1" fill="url(#f2)"/><polygon points="835.4,439.1 845.4,438.7 844.5,457.0" fill="url(#f1)"/><polygon points="835.4,439.1 844.5,457.0 832.7,457.3" fill="url(#f7)"/><polygon points="832.7,457.3 844.5,457.0 834.1,467.5" fill="url(#f3)"/><polygon points="844.5,457.0 849.4,469.3 834.1,467.5" fill="url(#f7)"/><polygon points="834.1,467.5 849.4,469.3 844.6,479.0 834.3,480.3" fill="url(#f4)"/><polygon points="834.3,480.3 844.6,479.0 847.9,491.7 836.7,488.5" fill="url(#f2)"/><polygon points="836.7,488.5 847.9,491.7 846.7,505.6 833.7,503.6" fill="url(#f10)"/><polygon points="833.7,503.6 846.7,505.6 832.9,512.0" fill="url(#f4)"/><polygon points="846.7,505.6 844.9,514.3 832.9,512.0" fill="url(#f8)"/><polygon points="832.9,512.0 844.9,514.3 836.4,528.5" fill="url(#f2)"/><polygon points="844.9,514.3 849.7,528.9 836.4,528.5" fill="url(#f6)"/><polygon points="836.4,528.5 849.7,528.9 836.8,536.4" fill="url(#f7)"/><polygon points="849.7,528.9 849.7,539.5 836.8,536.4" fill="url(#f5)"/><polygon points="836.8,536.4 849.7,539.5 850.1,553.0 839.0,547.9" fill="url(#f1)"/><polygon points="839.0,547.9 850.1,553.0 846.9,563.3 832.5,560.3" fill="url(#f9)"/><polygon points="832.5,560.3 846.9,563.3 850.9,576.7 835.6,570.8" fill="url(#f10)"/><polygon points="835.6,570.8 850.9,576.7 847.4,588.1 833.7,585.1" fill="url(#f0)"/><polygon points="833.7,585.1 847.4,588.1 850.6,598.5 836.5,595.3" fill="url(#f3)"/><polygon points="836.5,595.3 850.6,598.5 835.0,612.8" fill="url(#f11)"/><polygon points="850.6,598.5 848.9,609.2 835.0,612.8" fill="url(#f4)"/><polygon points="835.0,612.8 848.9,609.2 848.6,622.8 839.5,623.1" fill="url(#f11)"/><polygon points="849.4,430.6 857.0,431.0 863.6,444.7 845.4,438.7" fill="url(#f2)"/><polygon points="845.4,438.7 863.6,444.7 861.6,453.2 844.5,457.0" fill="url(#f10)"/><polygon points="844.5,457.0 861.6,453.2 861.7,466.6" fill="url(#f1)"/><polygon points="844.5,457.0 861.7,466.6 849.4,469.3" fill="url(#f5)"/><polygon points="849.4,469.3 861.7,466.6 844.6,479.0" fill="url(#f10)"/><polygon points="861.7,466.6 859.6,480.4 844.6,479.0" fill="url(#f4)"/><polygon points="844.6,479.0 859.6,480.4 857.0,491.8 847.9,491.7" fill="url(#f4)"/><polygon points="847.9,491.7 857.0,491.8 856.6,502.7 846.7,505.6" fill="url(#f3)"/><polygon points="846.7,505.6 856.6,502.7 859.9,512.1 844.9,514.3" fill="url(#f11)"/><polygon points="844.9,514.3 859.9,512.1 861.4,526.0" fill="url(#f5)"/><polygon points="844.9,514.3 861.4,526.0 849.7,528.9" fill="url(#f5)"/><polygon points="849.7,528.9 861.4,526.0 860.8,541.0 849.7,539.5" fill="url(#f10)"/><polygon points="849.7,539.5 860.8,541.0 858.2,546.5 850.1,553.0" fill="url(#f6)"/><polygon points="850.1,553.0 858.2,546.5 846.9,563.3" fill="url(#f5)"/><polygon points="858.2,546.5 858.6,563.3 846.9,563.3" fill="url(#f6)"/><polygon points="846.9,563.3 858.6,563.3 850.9,576.7" fill="url(#f9)"/><polygon points="858.6,563.3 857.9,571.6 850.9,576.7" fill="url(#f2)"/><polygon points="850.9,576.7 857.9,571.6 862.9,587.2 847.4,588.1" fill="url(#f7)"/><polygon points="847.4,588.1 862.9,587.2 859.6,600.8" fill="url(#f0)"/><polygon points="847.4,588.1 859.6,600.8 850.6,598.5" fill="url(#f3)"/><polygon points="850.6,598.5 859.6,600.8 848.9,609.2" fill="url(#f9)"/><polygon points="859.6,600.8 858.8,611.2 848.9,609.2" fill="url(#f4)"/><polygon points="848.9,609.2 858.8,611.2 848.6,622.8" fill="url(#f6)"/><polygon points="858.8,611.2 857.8,621.5 848.6,622.8" fill="url(#f1)"/><polygon points="857.0,431.0 874.2,433.0 874.7,441.2" fill="url(#f8)"/><polygon points="857.0,431.0 874.7,441.2 863.6,444.7" fill="url(#f1)"/><polygon points="863.6,444.7 874.7,441.2 872.6,452.7 861.6,453.2" fill="url(#f4)"/><polygon points="861.6,453.2 872.6,452.7 861.7,466.6" fill="url(#f1)"/><polygon points="872.6,452.7 869.4,466.0 861.7,466.6" fill="url(#f0)"/><polygon points="861.7,466.6 869.4,466.0 874.4,480.5" fill="url(#f11)"/><polygon points="861.7,466.6 874.4,480.5 859.6,480.4" fill="url(#f10)"/><polygon points="859.6,480.4 874.4,480.5 873.5,493.2 857.0,491.8" fill="url(#f11)"/><polygon points="857.0,491.8 873.5,493.2 870.4,499.6 856.6,502.7" fill="url(#f8)"/><polygon points="856.6,502.7 870.4,499.6 871.6,512.4 859.9,512.1" fill="url(#f7)"/><polygon points="859.9,512.1 871.6,512.4 869.9,525.4 861.4,526.0" fill="url(#f5)"/><polygon points="861.4,526.0 869.9,525.4 872.9,538.0" fill="url(#f2)"/><polygon points="861.4,526.0 872.9,538.0 860.8,541.0" fill="url(#f7)"/><polygon points="860.8,541.0 872.9,538.0 870.7,552.4 858.2,546.5" fill="url(#f11)"/><polygon points="858.2,546.5 870.7,552.4 875.5,561.7 858.6,563.3" fill="url(#f9)"/><polygon points="858.6,563.3 875.5,561.7 868.9,570.6" fill="url(#f10)"/><polygon points="858.6,563.3 868.9,570.6 857.9,571.6" fill="url(#f5)"/><polygon points="857.9,571.6 868.9,570.6 862.9,587.2" fill="url(#f1)"/><polygon points="868.9,570.6 874.7,582.7 862.9,587.2" fill="url(#f7)"/><polygon points="862.9,587.2 874.7,582.7 859.6,600.8" fill="url(#f8)"/><polygon points="874.7,582.7 873.5,598.5 859.6,600.8" fill="url(#f5)"/><polygon points="859.6,600.8 873.5,598.5 858.8,611.2" fill="url(#f6)"/><polygon points="873.5,598.5 870.6,612.1 858.8,611.2" fill="url(#f6)"/><polygon points="858.8,611.2 870.6,612.1 868.5,619.4" fill="url(#f2)"/><polygon points="858.8,611.2 868.5,619.4 857.8,621.5" fill="url(#f10)"/><polygon points="874.2,433.0 883.7,426.6 886.4,440.1 874.7,441.2" fill="url(#f2)"/><polygon points="874.7,441.2 886.4,440.1 881.4,450.7 872.6,452.7" fill="url(#f6)"/><polygon points="872.6,452.7 881.4,450.7 884.9,465.6 869.4,466.0" fill="url(#f4)"/><polygon points="869.4,466.0 884.9,465.6 884.9,479.1 874.4,480.5" fill="url(#f0)"/><polygon points="874.4,480.5 884.9,479.1 886.2,493.3 873.5,493.2" fill="url(#f11)"/><polygon points="873.5,493.2 886.2,493.3 885.3,499.8 870.4,499.6" fill="url(#f10)"/><polygon points="870.4,499.6 885.3,499.8 883.8,511.7 871.6,512.4" fill="url(#f2)"/><polygon points="871.6,512.4 883.8,511.7 869.9,525.4" fill="url(#f0)"/><polygon points="883.8,511.7 880.5,525.8 869.9,525.4" fill="url(#f9)"/><polygon points="869.9,525.4 880.5,525.8 885.5,535.7 872.9,538.0" fill="url(#f0)"/><polygon points="872.9,538.0 885.5,535.7 882.4,548.9 870.7,552.4" fill="url(#f3)"/><polygon points="870.7,552.4 882.4,548.9 885.4,562.1 875.5,561.7" fill="url(#f3)"/><polygon points="875.5,561.7 885.4,562.1 868.9,570.6" fill="url(#f7)"/><polygon points="885.4,562.1 884.8,575.8 868.9,570.6" fill="url(#f9)"/><polygon points="868.9,570.6 884.8,575.8 883.2,588.1" fill="url(#f4)"/><polygon points="868.9,570.6 883.2,588.1 874.7,582.7" fill="url(#f6)"/><polygon points="874.7,582.7 883.2,588.1 886.9,595.0 873.5,598.5" fill="url(#f4)"/><polygon points="873.5,598.5 886.9,595.0 870.6,612.1" fill="url(#f8)"/><polygon points="886.9,595.0 887.1,611.6 870.6,612.1" fill="url(#f7)"/><polygon points="870.6,612.1 887.1,611.6 881.3,621.7" fill="url(#f6)"/><polygon points="870.6,612.1 881.3,621.7 868.5,619.4" fill="url(#f5)"/><polygon points="883.7,426.6 896.9,433.0 886.4,440.1" fill="url(#f1)"/><polygon points="896.9,433.0 895.1,442.5 886.4,440.1" fill="url(#f7)"/><polygon points="886.4,440.1 895.1,442.5 898.7,456.1" fill="url(#f3)"/><polygon points="886.4,440.1 898.7,456.1 881.4,450.7" fill="url(#f2)"/><polygon points="881.4,450.7 898.7,456.1 899.2,465.7" fill="url(#f8)"/><polygon points="881.4,450.7 899.2,465.7 884.9,465.6" fill="url(#f8)"/><polygon points="884.9,465.6 899.2,465.7 884.9,479.1" fill="url(#f0)"/><polygon points="899.2,465.7 897.1,475.9 884.9,479.1" fill="url(#f10)"/><polygon points="884.9,479.1 897.1,475.9 886.2,493.3" fill="url(#f7)"/><polygon points="897.1,475.9 897.6,492.3 886.2,493.3" fill="url(#f5)"/><polygon points="886.2,493.3 897.6,492.3 897.0,503.6 885.3,499.8" fill="url(#f3)"/><polygon points="885.3,499.8 897.0,503.6 883.8,511.7" fill="url(#f2)"/><polygon points="897.0,503.6 893.9,516.9 883.8,511.7" fill="url(#f6)"/><polygon points="883.8,511.7 893.9,516.9 899.5,529.4 880.5,525.8" fill="url(#f5)"/><polygon points="880.5,525.8 899.5,529.4 896.3,540.1 885.5,535.7" fill="url(#f8)"/><polygon points="885.5,535.7 896.3,540.1 894.7,553.0 882.4,548.9" fill="url(#f11)"/><polygon points="882.4,548.9 894.7,553.0 898.6,560.9" fill="url(#f8)"/><polygon points="882.4,548.9 898.6,560.9 885.4,562.1" fill="url(#f0)"/><polygon points="885.4,562.1 898.6,560.9 893.0,573.6 884.8,575.8" fill="url(#f2)"/><polygon points="884.8,575.8 893.0,573.6 896.4,587.9 883.2,588.1" fill="url(#f2)"/><polygon points="883.2,588.1 896.4,587.9 895.9,594.6" fill="url(#f4)"/><polygon points="883.2,588.1 895.9,594.6 886.9,595.0" fill="url(#f9)"/><polygon points="886.9,595.0 895.9,594.6 898.2,606.9" fill="url(#f7)"/><polygon points="886.9,595.0 898.2,606.9 887.1,611.6" fill="url(#f11)"/><polygon points="887.1,611.6 898.2,606.9 898.2,619.6 881.3,621.7" fill="url(#f11)"/><polygon points="896.9,433.0 906.8,432.1 895.1,442.5" fill="url(#f4)"/><polygon points="906.8,432.1 905.4,439.5 895.1,442.5" fill="url(#f0)"/><polygon points="895.1,442.5 905.4,439.5 908.1,455.6" fill="url(#f10)"/><polygon points="895.1,442.5 908.1,455.6 898.7,456.1" fill="url(#f1)"/><polygon points="898.7,456.1 908.1,455.6 910.4,467.4" fill="url(#f0)"/><polygon points="898.7,456.1 910.4,467.4 899.2,465.7" fill="url(#f8)"/><polygon points="899.2,465.7 910.4,467.4 911.2,477.9 897.1,475.9" fill="url(#f7)"/><polygon points="897.1,475.9 911.2,477.9 911.2,487.0 897.6,492.3" fill="url(#f4)"/><polygon points="897.6,492.3 911.2,487.0 906.0,502.2 897.0,503.6" fill="url(#f6)"/><polygon points="897.0,503.6 906.0,502.2 906.5,515.6 893.9,516.9" fill="url(#f4)"/><polygon points="893.9,516.9 906.5,515.6 899.5,529.4" fill="url(#f1)"/><polygon points="906.5,515.6 909.0,526.2 899.5,529.4" fill="url(#f5)"/><polygon points="899.5,529.4 909.0,526.2 910.5,538.4 896.3,540.1" fill="url(#f2)"/><polygon points="896.3,540.1 910.5,538.4 906.6,549.1 894.7,553.0" fill="url(#f6)"/><polygon points="894.7,553.0 906.6,549.1 898.6,560.9" fill="url(#f1)"/><polygon points="906.6,549.1 910.5,564.9 898.6,560.9" fill="url(#f10)"/><polygon points="898.6,560.9 910.5,564.9 905.9,576.5 893.0,573.6" fill="url(#f6)"/><polygon points="893.0,573.6 905.9,576.5 911.4,586.2" fill="url(#f4)"/><polygon points="893.0,573.6 911.4,586.2 896.4,587.9" fill="url(#f9)"/><polygon points="896.4,587.9 911.4,586.2 908.5,595.8 895.9,594.6" fill="url(#f0)"/><polygon points="895.9,594.6 908.5,595.8 898.2,606.9" fill="url(#f11)"/><polygon points="908.5,595.8 908.3,610.0 898.2,606.9" fill="url(#f3)"/><polygon points="898.2,606.9 908.3,610.0 908.8,618.6" fill="url(#f10)"/><polygon points="898.2,606.9 908.8,618.6 898.2,619.6" fill="url(#f6)"/><polygon points="906.8,432.1 923.4,430.1 905.4,439.5" fill="url(#f5)"/><polygon points="923.4,430.1 919.3,444.2 905.4,439.5" fill="url(#f6)"/><polygon points="905.4,439.5 919.3,444.2 920.5,453.9" fill="url(#f3)"/><polygon points="905.4,439.5 920.5,453.9 908.1,455.6" fill="url(#f3)"/><polygon points="908.1,455.6 920.5,453.9 921.4,462.9 910.4,467.4" fill="url(#f1)"/><polygon points="910.4,467.4 921.4,462.9 920.3,477.4 911.2,477.9" fill="url(#f4)"/><polygon points="911.2,477.9 920.3,477.4 911.2,487.0" fill="url(#f5)"/><polygon points="920.3,477.4 923.3,493.0 911.2,487.0" fill="url(#f7)"/><polygon points="911.2,487.0 923.3,493.0 918.3,501.8" fill="url(#f2)"/><polygon points="911.2,487.0 918.3,501.8 906.0,502.2" fill="url(#f9)"/><polygon points="906.0,502.2 918.3,501.8 917.3,513.5 906.5,515.6" fill="url(#f10)"/><polygon points="906.5,515.6 917.3,513.5 922.3,528.9" fill="url(#f3)"/><polygon points="906.5,515.6 922.3,528.9 909.0,526.2" fill="url(#f6)"/><polygon points="909.0,526.2 922.3,528.9 919.8,536.7 910.5,538.4" fill="url(#f7)"/><polygon points="910.5,538.4 919.8,536.7 917.8,550.8" fill="url(#f3)"/><polygon points="910.5,538.4 917.8,550.8 906.6,549.1" fill="url(#f0)"/><polygon points="906.6,549.1 917.8,550.8 923.1,559.3 910.5,564.9" fill="url(#f1)"/><polygon points="910.5,564.9 923.1,559.3 922.0,570.6 905.9,576.5" fill="url(#f1)"/><polygon points="905.9,576.5 922.0,570.6 917.8,584.0 911.4,586.2" fill="url(#f6)"/><polygon points="911.4,586.2 917.8,584.0 921.3,596.7" fill="url(#f3)"/><polygon points="911.4,586.2 921.3,596.7 908.5,595.8" fill="url(#f2)"/><polygon points="908.5,595.8 921.3,596.7 919.0,610.9" fill="url(#f5)"/><polygon points="908.5,595.8 919.0,610.9 908.3,610.0" fill="url(#f6)"/><polygon points="908.3,610.0 919.0,610.9 908.8,618.6" fill="url(#f9)"/><polygon points="919.0,610.9 917.2,623.7 908.8,618.6" fill="url(#f11)"/><polygon points="923.4,430.1 929.3,430.1 930.2,439.8 919.3,444.2" fill="url(#f3)"/><polygon points="919.3,444.2 930.2,439.8 920.5,453.9" fill="url(#f0)"/><polygon points="930.2,439.8 932.2,453.5 920.5,453.9" fill="url(#f4)"/><polygon points="920.5,453.9 932.2,453.5 931.1,465.4 921.4,462.9" fill="url(#f5)"/><polygon points="921.4,462.9 931.1,465.4 932.2,475.6 920.3,477.4" fill="url(#f7)"/><polygon points="920.3,477.4 932.2,475.6 929.9,490.9 923.3,493.0" fill="url(#f6)"/><polygon points="923.3,493.0 929.9,490.9 933.0,502.2 918.3,501.8" fill="url(#f5)"/><polygon points="918.3,501.8 933.0,502.2 917.3,513.5" fill="url(#f9)"/><polygon points="933.0,502.2 934.5,514.8 917.3,513.5" fill="url(#f11)"/><polygon points="917.3,513.5 934.5,514.8 934.6,524.1 922.3,528.9" fill="url(#f8)"/><polygon points="922.3,528.9 934.6,524.1 919.8,536.7" fill="url(#f5)"/><polygon points="934.6,524.1 933.7,540.2 919.8,536.7" fill="url(#f9)"/><polygon points="919.8,536.7 933.7,540.2 934.9,548.7" fill="url(#f11)"/><polygon points="919.8,536.7 934.9,548.7 917.8,550.8" fill="url(#f3)"/><polygon points="917.8,550.8 934.9,548.7 923.1,559.3" fill="url(#f11)"/><polygon points="934.9,548.7 930.7,565.0 923.1,559.3" fill="url(#f11)"/><polygon points="923.1,559.3 930.7,565.0 930.0,577.6" fill="url(#f0)"/><polygon points="923.1,559.3 930.0,577.6 922.0,570.6" fill="url(#f10)"/><polygon points="922.0,570.6 930.0,577.6 917.8,584.0" fill="url(#f2)"/><polygon points="930.0,577.6 934.8,583.4 917.8,584.0" fill="url(#f3)"/><polygon points="917.8,584.0 934.8,583.4 930.1,599.6 921.3,596.7" fill="url(#f6)"/><polygon points="921.3,596.7 930.1,599.6 930.3,607.1" fill="url(#f5)"/><polygon points="921.3,596.7 930.3,607.1 919.0,610.9" fill="url(#f4)"/><polygon points="919.0,610.9 930.3,607.1 934.4,621.4 917.2,623.7" fill="url(#f1)"/><polygon points="929.3,430.1 946.1,427.3 943.3,443.3 930.2,439.8" fill="url(#f11)"/><polygon points="930.2,439.8 943.3,443.3 940.5,451.8 932.2,453.5" fill="url(#f9)"/><polygon points="932.2,453.5 940.5,451.8 931.1,465.4" fill="url(#f8)"/><polygon points="940.5,451.8 945.3,469.0 931.1,465.4" fill="url(#f4)"/><polygon points="931.1,465.4 945.3,469.0 947.4,475.2 932.2,475.6" fill="url(#f11)"/><polygon points="932.2,475.6 947.4,475.2 929.9,490.9" fill="url(#f9)"/><polygon points="947.4,475.2 944.0,491.9 929.9,490.9" fill="url(#f2)"/><polygon points="929.9,490.9 944.0,491.9 944.0,503.3 933.0,502.2" fill="url(#f0)"/><polygon points="933.0,502.2 944.0,503.3 941.8,510.9 934.5,514.8" fill="url(#f5)"/><polygon points="934.5,514.8 941.8,510.9 941.2,522.7 934.6,524.1" fill="url(#f9)"/><polygon points="934.6,524.1 941.2,522.7 944.4,538.1 933.7,540.2" fill="url(#f2)"/><polygon points="933.7,540.2 944.4,538.1 944.5,547.5 934.9,548.7" fill="url(#f8)"/><polygon points="934.9,548.7 944.5,547.5 941.7,559.9" fill="url(#f6)"/><polygon points="934.9,548.7 941.7,559.9 930.7,565.0" fill="url(#f2)"/><polygon points="930.7,565.0 941.7,559.9 930.0,577.6" fill="url(#f10)"/><polygon points="941.7,559.9 946.4,577.5 930.0,577.6" fill="url(#f2)"/><polygon points="930.0,577.6 946.4,577.5 947.1,583.1 934.8,583.4" fill="url(#f10)"/><polygon points="934.8,583.4 947.1,583.1 930.1,599.6" fill="url(#f9)"/><polygon points="947.1,583.1 940.8,601.3 930.1,599.6" fill="url(#f9)"/><polygon points="930.1,599.6 940.8,601.3 930.3,607.1" fill="url(#f2)"/><polygon points="940.8,601.3 943.7,611.9 930.3,607.1" fill="url(#f3)"/><polygon points="930.3,607.1 943.7,611.9 942.8,621.8 934.4,621.4" fill="url(#f0)"/><polygon points="946.1,427.3 956.1,429.5 956.7,438.5 943.3,443.3" fill="url(#f6)"/><polygon points="943.3,443.3 956.7,438.5 957.4,456.5 940.5,451.8" fill="url(#f6)"/><polygon points="940.5,451.8 957.4,456.5 953.7,465.7 945.3,469.0" fill="url(#f8)"/><polygon points="945.3,469.0 953.7,465.7 957.7,477.3 947.4,475.2" fill="url(#f3)"/><polygon points="947.4,475.2 957.7,477.3 953.8,487.6" fill="url(#f10)"/><polygon points="947.4,475.2 953.8,487.6 944.0,491.9" fill="url(#f0)"/><polygon points="944.0,491.9 953.8,487.6 944.0,503.3" fill="url(#f6)"/><polygon points="953.8,487.6 956.1,498.5 944.0,503.3" fill="url(#f7)"/><polygon points="944.0,503.3 956.1,498.5 958.8,516.2" fill="url(#f6)"/><polygon points="944.0,503.3 958.8,516.2 941.8,510.9" fill="url(#f9)"/><polygon points="941.8,510.9 958.8,516.2 941.2,522.7" fill="url(#f6)"/><polygon points="958.8,516.2 957.5,528.6 941.2,522.7" fill="url(#f4)"/><polygon points="941.2,522.7 957.5,528.6 956.9,537.3 944.4,538.1" fill="url(#f7)"/><polygon points="944.4,538.1 956.9,537.3 944.5,547.5" fill="url(#f6)"/><polygon points="956.9,537.3 956.7,550.0 944.5,547.5" fill="url(#f6)"/><polygon points="944.5,547.5 956.7,550.0 959.5,564.2 941.7,559.9" fill="url(#f1)"/><polygon points="941.7,559.9 959.5,564.2 946.4,577.5" fill="url(#f8)"/><polygon points="959.5,564.2 954.3,577.0 946.4,577.5" fill="url(#f8)"/><polygon points="946.4,577.5 954.3,577.0 957.8,588.0 947.1,583.1" fill="url(#f0)"/><polygon points="947.1,583.1 957.8,588.0 958.3,597.3 940.8,601.3" fill="url(#f0)"/><polygon points="940.8,601.3 958.3,597.3 958.9,612.7 943.7,611.9" fill="url(#f9)"/><polygon points="943.7,611.9 958.9,612.7 942.8,621.8" fill="url(#f9)"/><polygon points="958.9,612.7 957.4,623.9 942.8,621.8" fill="url(#f5)"/><polygon points="956.1,429.5 969.9,429.3 969.6,438.9" fill="url(#f9)"/><polygon points="956.1,429.5 969.6,438.9 956.7,438.5" fill="url(#f1)"/><polygon points="956.7,438.5 969.6,438.9 966.9,453.8 957.4,456.5" fill="url(#f7)"/><polygon points="957.4,456.5 966.9,453.8 964.5,465.0 953.7,465.7" fill="url(#f6)"/><polygon points="953.7,465.7 964.5,465.0 969.0,478.9" fill="url(#f1)"/><polygon points="953.7,465.7 969.0,478.9 957.7,477.3" fill="url(#f8)"/><polygon points="957.7,477.3 969.0,478.9 953.8,487.6" fill="url(#f10)"/><polygon points="969.0,478.9 966.1,493.2 953.8,487.6" fill="url(#f6)"/><polygon points="953.8,487.6 966.1,493.2 956.1,498.5" fill="url(#f11)"/><polygon points="966.1,493.2 969.2,500.8 956.1,498.5" fill="url(#f10)"/><polygon points="956.1,498.5 969.2,500.8 969.2,514.5 958.8,516.2" fill="url(#f8)"/><polygon points="958.8,516.2 969.2,514.5 968.2,525.2 957.5,528.6" fill="url(#f2)"/><polygon points="957.5,528.6 968.2,525.2 971.6,539.0 956.9,537.3" fill="url(#f11)"/><polygon points="956.9,537.3 971.6,539.0 969.4,551.9 956.7,550.0" fill="url(#f1)"/><polygon points="956.7,550.0 969.4,551.9 971.5,558.6" fill="url(#f2)"/><polygon points="956.7,550.0 971.5,558.6 959.5,564.2" fill="url(#f1)"/><polygon points="959.5,564.2 971.5,558.6 954.3,577.0" fill="url(#f7)"/><polygon points="971.5,558.6 968.8,575.7 954.3,577.0" fill="url(#f0)"/><polygon points="954.3,577.0 968.8,575.7 966.2,585.3 957.8,588.0" fill="url(#f11)"/><polygon points="957.8,588.0 966.2,585.3 964.8,595.8 958.3,597.3" fill="url(#f5)"/><polygon points="958.3,597.3 964.8,595.8 967.1,607.1 958.9,612.7" fill="url(#f7)"/><polygon points="958.9,612.7 967.1,607.1 957.4,623.9" fill="url(#f6)"/><polygon points="967.1,607.1 966.2,624.9 957.4,623.9" fill="url(#f2)"/></g></g><path d="M870,460 L877,433.7 L884,460" fill="none" stroke="#000" stroke-width="1.6" stroke-linejoin="round"/><path d="M807,521.7 L833,513 L831,518 L845,516 L845,529 L831,528 L835,531 Z" fill="none" stroke="#000" stroke-width="1.6" stroke-linejoin="round"/><path d="M946,522.6 L920,514 L922,518 L908,516 L908,529 L922,528 L920,533 Z" fill="none" stroke="#000" stroke-width="1.6" stroke-linejoin="round"/><path d="M876.4,593 L866,566 L870,567 L869.5,553 L883.4,553 L883,567 L887,566 Z" fill="none" stroke="#000" stroke-width="1.6" stroke-linejoin="round"/><path d="M845.4,492.8 L860.9,499.9 L852.5,508.4 Z" fill="#000"/><path d="M907.6,492.8 L900.5,508.4 L892.1,499.9 Z" fill="#000"/><path d="M845.4,552.2 L852.5,536.6 L860.9,545.1 Z" fill="#000"/><path d="M907.6,552.2 L892.1,545.1 L900.5,536.6 Z" fill="#000"/><path d="M911.1,522.5 L913.0,526.9 L911.8,531.2 L909.7,535.1 L906.6,538.4 L906.1,543.3 L902.9,546.7 L898.4,548.7 L894.5,551.1 L889.8,552.0 L885.3,552.5 L881.1,554.7 L876.5,555.8 L872.0,553.5 L866.9,555.5 L863.2,552.0 L859.1,550.2 L855.8,547.2 L849.5,547.2 L847.1,543.2 L843.9,539.7 L842.8,535.3 L843.7,530.6 L841.5,526.7 L840.5,522.5 L842.5,518.4 L839.8,513.5 L843.8,510.1 L846.6,506.7 L846.9,501.6 L852.2,500.2 L853.5,495.0 L858.6,494.1 L862.6,491.8 L867.4,491.2 L871.8,489.8 L876.5,490.7 L880.9,491.6 L886.2,489.2 L889.8,493.0 L895.1,493.0 L897.6,497.2 L903.4,497.9 L906.4,501.5 L908.6,505.5 L910.8,509.5 L911.6,513.9 L913.2,518.1 Z M894.5,521.7 L894.4,516.9 L893.0,512.1 L889.3,508.8 L886.1,505.0 L881.4,503.1 L876.4,503.1 L871.6,503.8 L867.1,505.6 L863.3,508.6 L859.6,512.0 L858.5,516.9 L858.4,521.7 L858.9,526.4 L859.9,531.2 L862.7,535.4 L867.1,537.9 L871.6,539.8 L876.4,540.5 L881.3,540.1 L885.5,537.5 L889.7,535.0 L892.7,531.1 L894.6,526.6 Z" fill="#fff" fill-rule="evenodd"/><g opacity="0.6"><g clip-path="url(#cRing)"><polygon points="837.0,486.6 847.6,488.7 834.7,494.6" fill="url(#f11)"/><polygon points="847.6,488.7 853.6,495.9 834.7,494.6" fill="url(#f9)"/><polygon points="834.7,494.6 853.6,495.9 851.0,507.8 840.9,508.6" fill="url(#f4)"/><polygon points="840.9,508.6 851.0,507.8 852.7,518.8 838.0,525.1" fill="url(#f3)"/><polygon points="838.0,525.1 852.7,518.8 847.2,535.6 841.4,533.8" fill="url(#f1)"/><polygon points="841.4,533.8 847.2,535.6 848.7,548.9" fill="url(#f5)"/><polygon points="841.4,533.8 848.7,548.9 835.9,544.5" fill="url(#f9)"/><polygon points="835.9,544.5 848.7,548.9 852.7,559.5 841.0,560.9" fill="url(#f2)"/><polygon points="841.0,560.9 852.7,559.5 847.4,571.4 835.8,572.4" fill="url(#f10)"/><polygon points="835.8,572.4 847.4,571.4 836.9,581.8" fill="url(#f9)"/><polygon points="847.4,571.4 853.2,581.6 836.9,581.8" fill="url(#f11)"/><polygon points="847.6,488.7 859.0,484.0 853.6,495.9" fill="url(#f2)"/><polygon points="859.0,484.0 860.6,499.5 853.6,495.9" fill="url(#f7)"/><polygon points="853.6,495.9 860.6,499.5 851.0,507.8" fill="url(#f3)"/><polygon points="860.6,499.5 859.8,507.7 851.0,507.8" fill="url(#f6)"/><polygon points="851.0,507.8 859.8,507.7 860.1,523.2 852.7,518.8" fill="url(#f0)"/><polygon points="852.7,518.8 860.1,523.2 864.1,533.1 847.2,535.6" fill="url(#f5)"/><polygon points="847.2,535.6 864.1,533.1 863.2,548.8 848.7,548.9" fill="url(#f8)"/><polygon points="848.7,548.9 863.2,548.8 862.6,556.0" fill="url(#f6)"/><polygon points="848.7,548.9 862.6,556.0 852.7,559.5" fill="url(#f3)"/><polygon points="852.7,559.5 862.6,556.0 847.4,571.4" fill="url(#f7)"/><polygon points="862.6,556.0 860.6,573.1 847.4,571.4" fill="url(#f7)"/><polygon points="847.4,571.4 860.6,573.1 863.2,580.4 853.2,581.6" fill="url(#f10)"/><polygon points="859.0,484.0 875.0,483.0 860.6,499.5" fill="url(#f3)"/><polygon points="875.0,483.0 877.5,497.6 860.6,499.5" fill="url(#f8)"/><polygon points="860.6,499.5 877.5,497.6 874.2,510.2 859.8,507.7" fill="url(#f1)"/><polygon points="859.8,507.7 874.2,510.2 870.7,522.7 860.1,523.2" fill="url(#f4)"/><polygon points="860.1,523.2 870.7,522.7 872.4,532.2 864.1,533.1" fill="url(#f4)"/><polygon points="864.1,533.1 872.4,532.2 863.2,548.8" fill="url(#f11)"/><polygon points="872.4,532.2 876.2,543.0 863.2,548.8" fill="url(#f4)"/><polygon points="863.2,548.8 876.2,543.0 862.6,556.0" fill="url(#f10)"/><polygon points="876.2,543.0 872.5,559.8 862.6,556.0" fill="url(#f11)"/><polygon points="862.6,556.0 872.5,559.8 872.2,568.4 860.6,573.1" fill="url(#f1)"/><polygon points="860.6,573.1 872.2,568.4 874.3,579.7 863.2,580.4" fill="url(#f2)"/><polygon points="875.0,483.0 888.9,489.5 877.5,497.6" fill="url(#f2)"/><polygon points="888.9,489.5 882.6,497.7 877.5,497.6" fill="url(#f3)"/><polygon points="877.5,497.6 882.6,497.7 874.2,510.2" fill="url(#f0)"/><polygon points="882.6,497.7 887.8,509.2 874.2,510.2" fill="url(#f5)"/><polygon points="874.2,510.2 887.8,509.2 889.1,522.0" fill="url(#f6)"/><polygon points="874.2,510.2 889.1,522.0 870.7,522.7" fill="url(#f5)"/><polygon points="870.7,522.7 889.1,522.0 883.7,534.4 872.4,532.2" fill="url(#f8)"/><polygon points="872.4,532.2 883.7,534.4 887.0,545.0" fill="url(#f9)"/><polygon points="872.4,532.2 887.0,545.0 876.2,543.0" fill="url(#f3)"/><polygon points="876.2,543.0 887.0,545.0 887.1,560.0 872.5,559.8" fill="url(#f3)"/><polygon points="872.5,559.8 887.1,560.0 886.1,570.0 872.2,568.4" fill="url(#f9)"/><polygon points="872.2,568.4 886.1,570.0 888.5,583.3 874.3,579.7" fill="url(#f3)"/><polygon points="888.9,489.5 898.1,489.3 895.7,500.0 882.6,497.7" fill="url(#f6)"/><polygon points="882.6,497.7 895.7,500.0 895.6,510.8 887.8,509.2" fill="url(#f11)"/><polygon points="887.8,509.2 895.6,510.8 896.1,521.6 889.1,522.0" fill="url(#f11)"/><polygon points="889.1,522.0 896.1,521.6 900.0,536.1" fill="url(#f7)"/><polygon points="889.1,522.0 900.0,536.1 883.7,534.4" fill="url(#f10)"/><polygon points="883.7,534.4 900.0,536.1 900.1,544.1 887.0,545.0" fill="url(#f3)"/><polygon points="887.0,545.0 900.1,544.1 887.1,560.0" fill="url(#f7)"/><polygon points="900.1,544.1 897.9,556.0 887.1,560.0" fill="url(#f6)"/><polygon points="887.1,560.0 897.9,556.0 898.6,570.0 886.1,570.0" fill="url(#f8)"/><polygon points="886.1,570.0 898.6,570.0 894.7,582.7" fill="url(#f4)"/><polygon points="886.1,570.0 894.7,582.7 888.5,583.3" fill="url(#f5)"/><polygon points="898.1,489.3 911.5,486.5 912.7,495.7 895.7,500.0" fill="url(#f3)"/><polygon points="895.7,500.0 912.7,495.7 907.5,506.5 895.6,510.8" fill="url(#f0)"/><polygon points="895.6,510.8 907.5,506.5 910.0,521.5" fill="url(#f0)"/><polygon points="895.6,510.8 910.0,521.5 896.1,521.6" fill="url(#f11)"/><polygon points="896.1,521.6 910.0,521.5 909.6,532.3 900.0,536.1" fill="url(#f10)"/><polygon points="900.0,536.1 909.6,532.3 912.1,542.9 900.1,544.1" fill="url(#f3)"/><polygon points="900.1,544.1 912.1,542.9 912.9,558.5" fill="url(#f1)"/><polygon points="900.1,544.1 912.9,558.5 897.9,556.0" fill="url(#f5)"/><polygon points="897.9,556.0 912.9,558.5 910.3,572.1 898.6,570.0" fill="url(#f10)"/><polygon points="898.6,570.0 910.3,572.1 908.1,579.5 894.7,582.7" fill="url(#f6)"/><polygon points="911.5,486.5 920.6,482.7 920.7,498.9 912.7,495.7" fill="url(#f7)"/><polygon points="912.7,495.7 920.7,498.9 922.2,508.3 907.5,506.5" fill="url(#f6)"/><polygon points="907.5,506.5 922.2,508.3 922.6,519.0" fill="url(#f11)"/><polygon points="907.5,506.5 922.6,519.0 910.0,521.5" fill="url(#f4)"/><polygon points="910.0,521.5 922.6,519.0 924.3,531.6 909.6,532.3" fill="url(#f6)"/><polygon points="909.6,532.3 924.3,531.6 920.2,543.6 912.1,542.9" fill="url(#f2)"/><polygon points="912.1,542.9 920.2,543.6 923.4,560.4 912.9,558.5" fill="url(#f11)"/><polygon points="912.9,558.5 923.4,560.4 924.1,566.8 910.3,572.1" fill="url(#f1)"/><polygon points="910.3,572.1 924.1,566.8 908.1,579.5" fill="url(#f2)"/><polygon points="924.1,566.8 921.4,581.0 908.1,579.5" fill="url(#f7)"/><polygon points="920.6,482.7 932.0,489.4 920.7,498.9" fill="url(#f8)"/><polygon points="932.0,489.4 930.7,497.9 920.7,498.9" fill="url(#f4)"/><polygon points="920.7,498.9 930.7,497.9 935.9,513.5" fill="url(#f6)"/><polygon points="920.7,498.9 935.9,513.5 922.2,508.3" fill="url(#f1)"/><polygon points="922.2,508.3 935.9,513.5 931.4,521.7 922.6,519.0" fill="url(#f1)"/><polygon points="922.6,519.0 931.4,521.7 935.8,530.7" fill="url(#f6)"/><polygon points="922.6,519.0 935.8,530.7 924.3,531.6" fill="url(#f7)"/><polygon points="924.3,531.6 935.8,530.7 932.1,548.8" fill="url(#f11)"/><polygon points="924.3,531.6 932.1,548.8 920.2,543.6" fill="url(#f5)"/><polygon points="920.2,543.6 932.1,548.8 931.4,557.2" fill="url(#f0)"/><polygon points="920.2,543.6 931.4,557.2 923.4,560.4" fill="url(#f5)"/><polygon points="923.4,560.4 931.4,557.2 932.5,569.5 924.1,566.8" fill="url(#f5)"/><polygon points="924.1,566.8 932.5,569.5 931.0,578.6" fill="url(#f10)"/><polygon points="924.1,566.8 931.0,578.6 921.4,581.0" fill="url(#f2)"/></g></g><path d="M911.1,522.5 L913.0,526.9 L911.8,531.2 L909.7,535.1 L906.6,538.4 L906.1,543.3 L902.9,546.7 L898.4,548.7 L894.5,551.1 L889.8,552.0 L885.3,552.5 L881.1,554.7 L876.5,555.8 L872.0,553.5 L866.9,555.5 L863.2,552.0 L859.1,550.2 L855.8,547.2 L849.5,547.2 L847.1,543.2 L843.9,539.7 L842.8,535.3 L843.7,530.6 L841.5,526.7 L840.5,522.5 L842.5,518.4 L839.8,513.5 L843.8,510.1 L846.6,506.7 L846.9,501.6 L852.2,500.2 L853.5,495.0 L858.6,494.1 L862.6,491.8 L867.4,491.2 L871.8,489.8 L876.5,490.7 L880.9,491.6 L886.2,489.2 L889.8,493.0 L895.1,493.0 L897.6,497.2 L903.4,497.9 L906.4,501.5 L908.6,505.5 L910.8,509.5 L911.6,513.9 L913.2,518.1 Z M894.5,521.7 L894.4,516.9 L893.0,512.1 L889.3,508.8 L886.1,505.0 L881.4,503.1 L876.4,503.1 L871.6,503.8 L867.1,505.6 L863.3,508.6 L859.6,512.0 L858.5,516.9 L858.4,521.7 L858.9,526.4 L859.9,531.2 L862.7,535.4 L867.1,537.9 L871.6,539.8 L876.4,540.5 L881.3,540.1 L885.5,537.5 L889.7,535.0 L892.7,531.1 L894.6,526.6 Z" fill="none" stroke="#000" stroke-width="3.5" stroke-dasharray="1.2 2.2" clip-path="url(#cRing)"/><path d="M911.1,522.5 L913.0,526.9 L911.8,531.2 L909.7,535.1 L906.6,538.4 L906.1,543.3 L902.9,546.7 L898.4,548.7 L894.5,551.1 L889.8,552.0 L885.3,552.5 L881.1,554.7 L876.5,555.8 L872.0,553.5 L866.9,555.5 L863.2,552.0 L859.1,550.2 L855.8,547.2 L849.5,547.2 L847.1,543.2 L843.9,539.7 L842.8,535.3 L843.7,530.6 L841.5,526.7 L840.5,522.5 L842.5,518.4 L839.8,513.5 L843.8,510.1 L846.6,506.7 L846.9,501.6 L852.2,500.2 L853.5,495.0 L858.6,494.1 L862.6,491.8 L867.4,491.2 L871.8,489.8 L876.5,490.7 L880.9,491.6 L886.2,489.2 L889.8,493.0 L895.1,493.0 L897.6,497.2 L903.4,497.9 L906.4,501.5 L908.6,505.5 L910.8,509.5 L911.6,513.9 L913.2,518.1 Z M894.5,521.7 L894.4,516.9 L893.0,512.1 L889.3,508.8 L886.1,505.0 L881.4,503.1 L876.4,503.1 L871.6,503.8 L867.1,505.6 L863.3,508.6 L859.6,512.0 L858.5,516.9 L858.4,521.7 L858.9,526.4 L859.9,531.2 L862.7,535.4 L867.1,537.9 L871.6,539.8 L876.4,540.5 L881.3,540.1 L885.5,537.5 L889.7,535.0 L892.7,531.1 L894.6,526.6 Z" fill="none" stroke="#000" stroke-width="1.8" stroke-linejoin="round"/><path d="M887.0,532.3 L888.4,538.0 L892.7,533.7 Z" fill="#000"/><path d="M865.8,532.3 L860.1,533.7 L864.4,538.0 Z" fill="#000"/><path d="M865.8,511.1 L864.4,505.4 L860.1,509.7 Z" fill="#000"/><path d="M887.0,511.1 L892.7,509.7 L888.4,505.4 Z" fill="#000"/>
<text x="877.2" y="489" font-size="41" text-anchor="middle" textLength="25" lengthAdjust="spacingAndGlyphs" stroke="#000" stroke-width="1.2" style="font-family:'Liberation Serif',serif">N</text>
<text x="801" y="654.5" font-size="20" textLength="151" lengthAdjust="spacingAndGlyphs">1 square = 5 feet</text>
</svg></body></html>
